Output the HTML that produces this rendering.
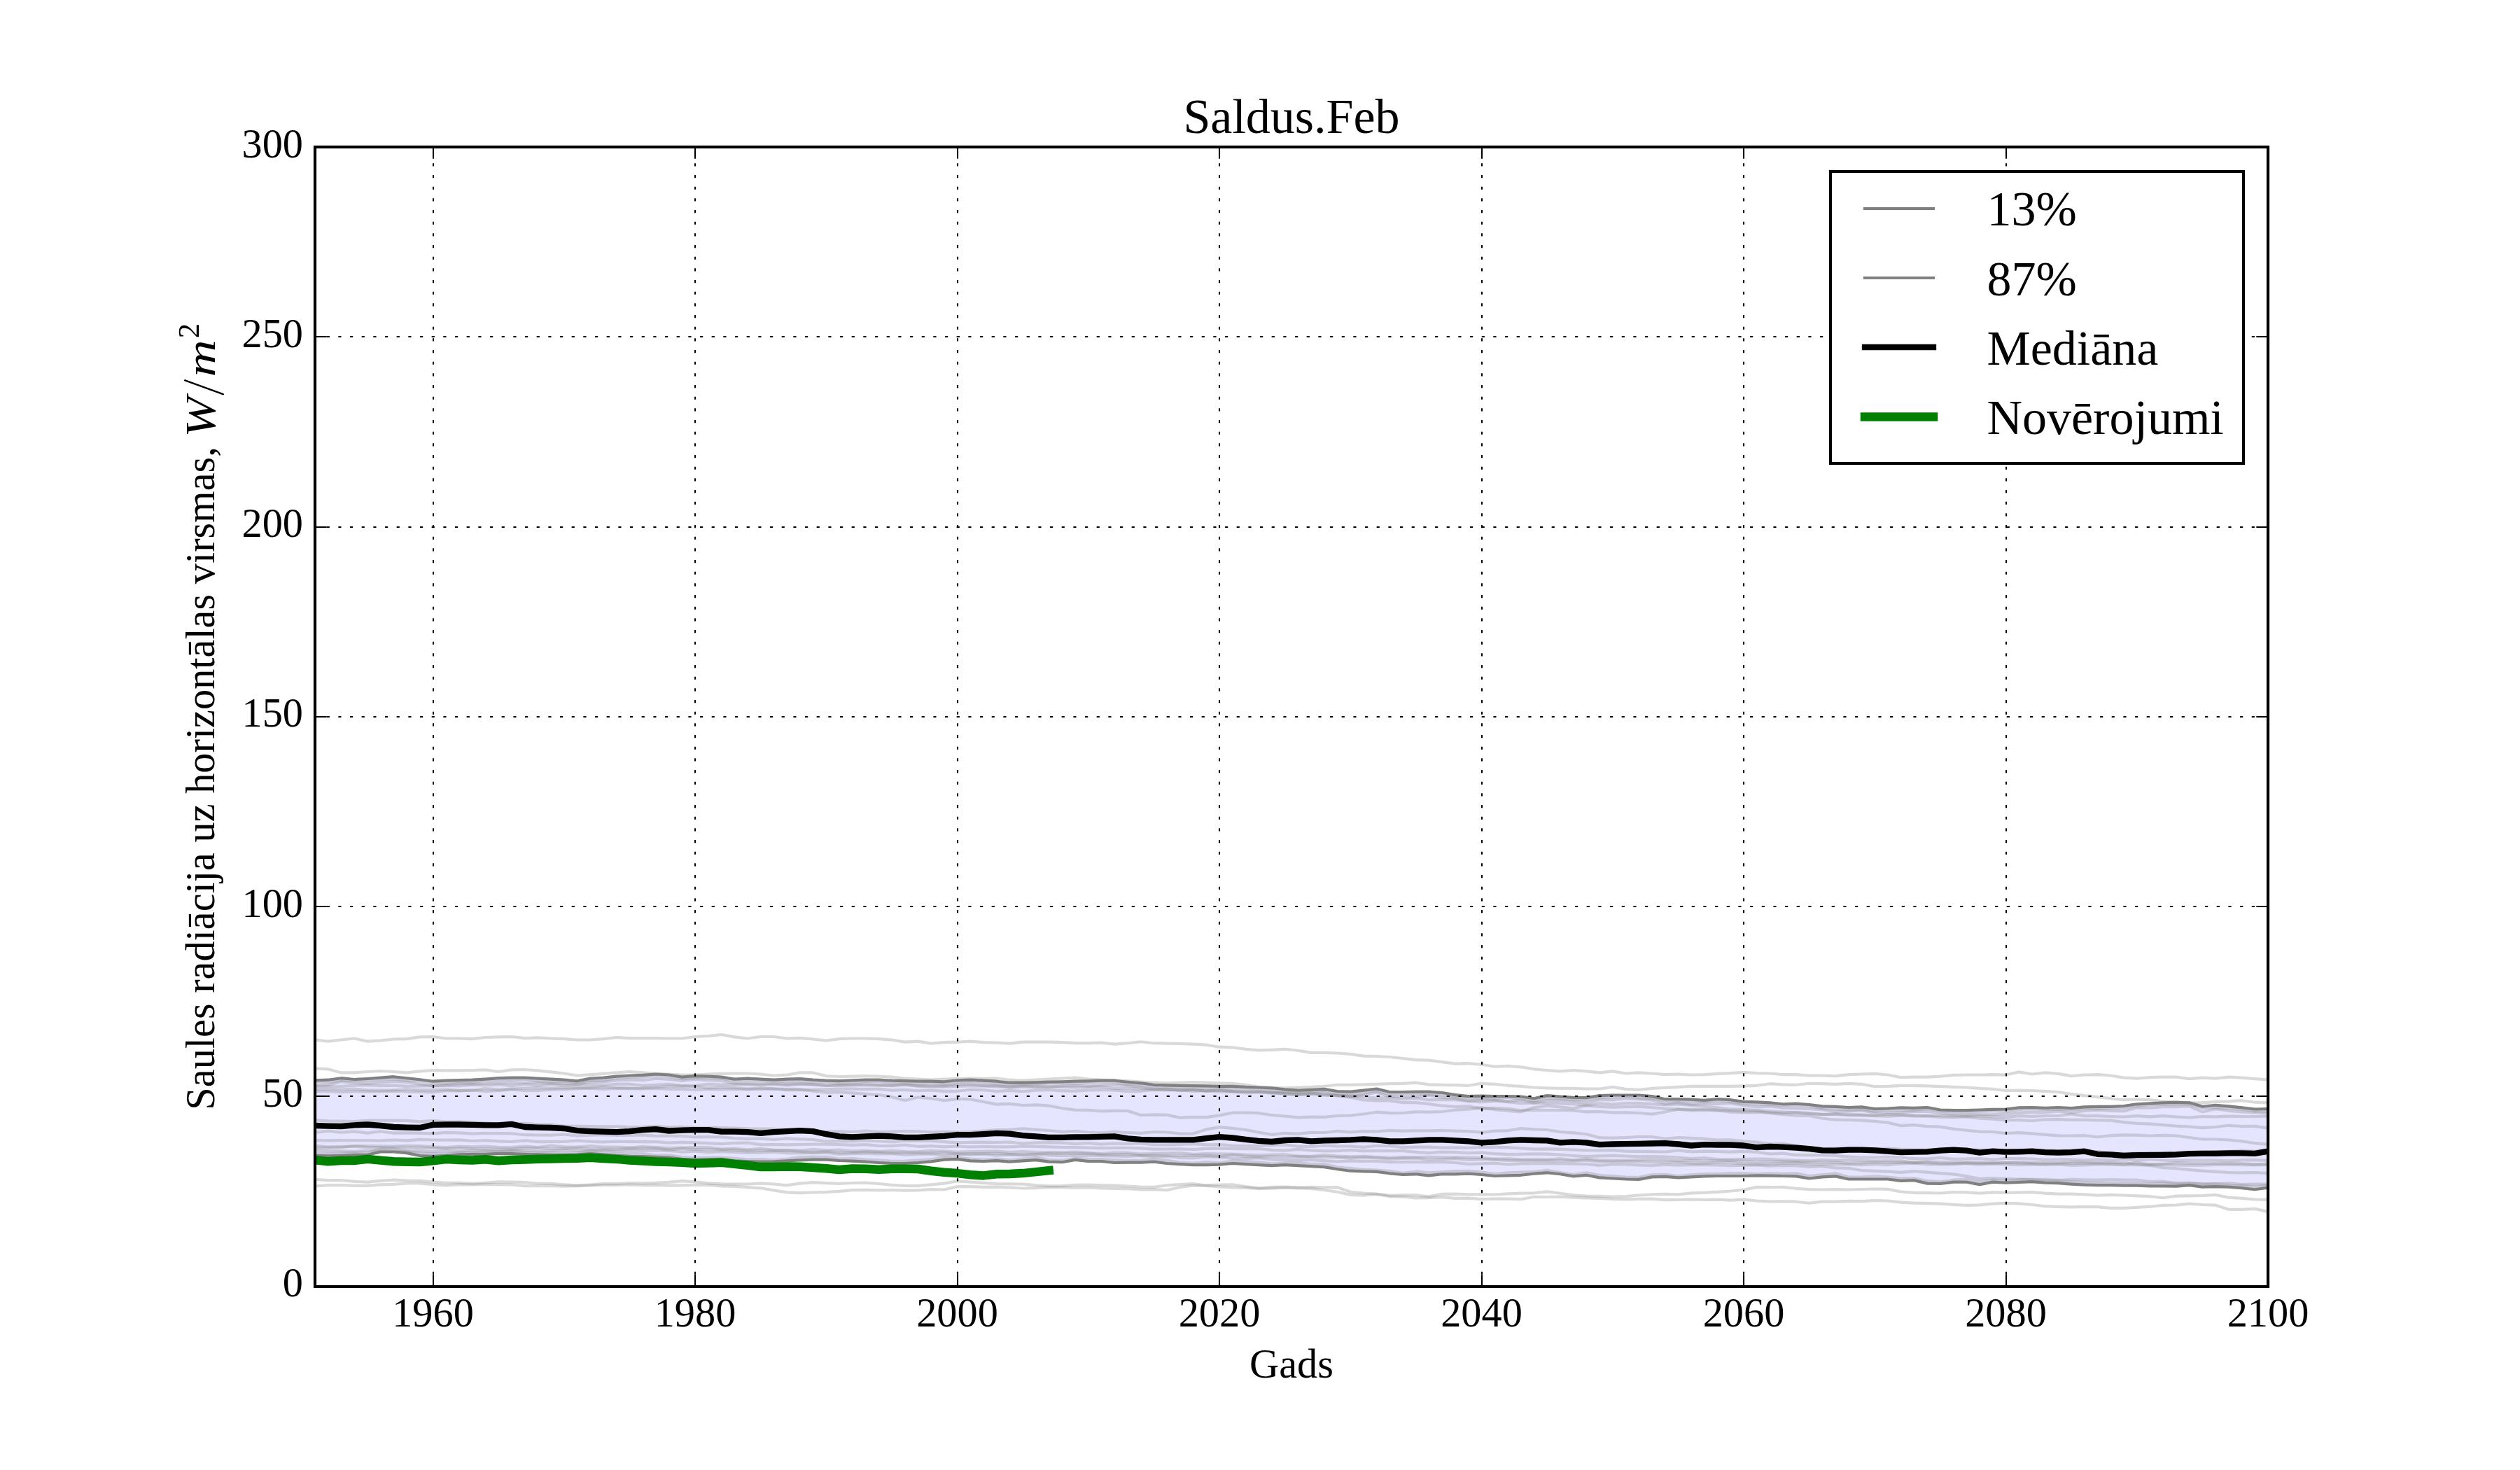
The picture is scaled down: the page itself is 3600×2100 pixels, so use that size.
<!DOCTYPE html><html><head><meta charset="utf-8"><title>Saldus.Feb</title><style>html,body{margin:0;padding:0;background:#fff;overflow:hidden;width:3600px;height:2100px;}svg{display:block;}text{font-family:"Liberation Serif",serif;}</style></head><body>
<svg width="3600" height="2100" viewBox="0 0 3600 2100">
<rect x="0" y="0" width="3600" height="2100" fill="#fff"/>
<defs><clipPath id="ax"><rect x="450.0" y="210.0" width="2790.0" height="1627.5"/></clipPath></defs>
<g clip-path="url(#ax)" fill="none" stroke-linejoin="round" stroke-linecap="square">
<path d="M450.0,1543.3 L468.7,1542.7 L487.4,1540.2 L506.2,1542.0 L524.9,1541.0 L543.6,1539.6 L562.3,1538.2 L581.1,1540.2 L599.8,1542.2 L618.5,1544.7 L637.2,1543.7 L656.0,1543.1 L674.7,1542.7 L693.4,1541.6 L712.1,1540.2 L730.9,1539.6 L749.6,1539.6 L768.3,1540.6 L787.0,1541.6 L805.8,1542.7 L824.5,1544.3 L843.2,1540.6 L861.9,1539.6 L880.7,1537.6 L899.4,1536.5 L918.1,1535.9 L936.8,1534.5 L955.6,1535.5 L974.3,1538.6 L993.0,1537.1 L1011.7,1537.6 L1030.5,1538.6 L1049.2,1541.6 L1067.9,1540.6 L1086.6,1541.6 L1105.4,1542.7 L1124.1,1541.6 L1142.8,1541.2 L1161.5,1542.7 L1180.3,1543.7 L1199.0,1544.1 L1217.7,1543.3 L1236.4,1542.7 L1255.2,1542.7 L1273.9,1543.7 L1292.6,1544.1 L1311.3,1544.7 L1330.1,1544.7 L1348.8,1545.3 L1367.5,1543.3 L1386.2,1542.7 L1405.0,1543.7 L1423.7,1544.7 L1442.4,1546.7 L1461.1,1546.7 L1479.9,1546.3 L1498.6,1545.7 L1517.3,1545.3 L1536.0,1544.7 L1554.8,1544.3 L1573.5,1543.7 L1592.2,1543.7 L1610.9,1545.7 L1629.7,1547.3 L1648.4,1549.8 L1667.1,1550.4 L1685.8,1550.8 L1704.6,1551.2 L1723.3,1551.4 L1742.0,1551.8 L1760.7,1551.8 L1779.5,1552.9 L1798.2,1553.5 L1816.9,1554.3 L1835.6,1556.3 L1854.4,1557.6 L1873.1,1556.9 L1891.8,1555.9 L1910.5,1559.0 L1929.3,1559.6 L1948.0,1557.6 L1966.7,1555.5 L1985.4,1560.0 L2004.2,1560.0 L2022.9,1559.6 L2041.6,1559.6 L2060.3,1561.0 L2079.1,1564.1 L2097.8,1566.1 L2116.5,1565.7 L2135.2,1566.1 L2154.0,1566.1 L2172.7,1566.5 L2191.4,1569.2 L2210.1,1565.1 L2228.9,1566.5 L2247.6,1567.8 L2266.3,1568.2 L2285.0,1565.1 L2303.8,1564.5 L2322.5,1564.5 L2341.2,1564.5 L2359.9,1566.1 L2378.7,1570.2 L2397.4,1570.2 L2416.1,1570.6 L2434.8,1571.8 L2453.6,1570.2 L2472.3,1571.2 L2491.0,1573.9 L2509.7,1574.3 L2528.5,1575.3 L2547.2,1577.3 L2565.9,1576.7 L2584.6,1578.0 L2603.4,1580.4 L2622.1,1580.8 L2640.8,1582.0 L2659.5,1581.4 L2678.3,1584.1 L2697.0,1583.5 L2715.7,1582.4 L2734.4,1582.9 L2753.2,1582.0 L2771.9,1585.5 L2790.6,1586.1 L2809.3,1586.1 L2828.1,1585.5 L2846.8,1584.9 L2865.5,1584.5 L2884.2,1582.4 L2903.0,1582.0 L2921.7,1582.9 L2940.4,1582.0 L2959.1,1583.1 L2977.9,1581.4 L2996.6,1580.8 L3015.3,1580.8 L3034.0,1580.0 L3052.8,1577.3 L3071.5,1576.3 L3090.2,1575.3 L3108.9,1574.9 L3127.7,1575.3 L3146.4,1580.8 L3165.1,1578.8 L3183.8,1580.4 L3202.6,1582.4 L3221.3,1584.5 L3240.0,1584.1 L3240.0,1696.7 L3221.3,1699.2 L3202.6,1697.1 L3183.8,1695.7 L3165.1,1695.1 L3146.4,1695.7 L3127.7,1693.1 L3108.9,1694.7 L3090.2,1694.3 L3071.5,1694.3 L3052.8,1693.7 L3034.0,1693.7 L3015.3,1693.1 L2996.6,1693.1 L2977.9,1692.7 L2959.1,1691.6 L2940.4,1690.2 L2921.7,1689.6 L2903.0,1688.2 L2884.2,1689.0 L2865.5,1689.6 L2846.8,1688.6 L2828.1,1692.2 L2809.3,1688.6 L2790.6,1688.6 L2771.9,1691.0 L2753.2,1690.6 L2734.4,1686.1 L2715.7,1686.9 L2697.0,1684.5 L2678.3,1684.5 L2659.5,1684.5 L2640.8,1684.5 L2622.1,1680.4 L2603.4,1681.4 L2584.6,1683.5 L2565.9,1680.4 L2547.2,1680.0 L2528.5,1679.6 L2509.7,1679.4 L2491.0,1680.0 L2472.3,1680.0 L2453.6,1680.0 L2434.8,1680.4 L2416.1,1681.4 L2397.4,1682.4 L2378.7,1680.8 L2359.9,1681.4 L2341.2,1684.9 L2322.5,1684.5 L2303.8,1683.5 L2285.0,1682.4 L2266.3,1678.8 L2247.6,1680.4 L2228.9,1677.3 L2210.1,1675.3 L2191.4,1676.7 L2172.7,1678.8 L2154.0,1679.4 L2135.2,1680.0 L2116.5,1678.0 L2097.8,1676.7 L2079.1,1677.3 L2060.3,1677.3 L2041.6,1679.4 L2022.9,1677.3 L2004.2,1678.0 L1985.4,1676.3 L1966.7,1673.9 L1948.0,1673.3 L1929.3,1672.7 L1910.5,1670.2 L1891.8,1667.1 L1873.1,1666.1 L1854.4,1665.1 L1835.6,1664.1 L1816.9,1665.1 L1798.2,1664.1 L1779.5,1663.1 L1760.7,1662.0 L1742.0,1663.7 L1723.3,1664.1 L1704.6,1664.1 L1685.8,1663.1 L1667.1,1662.0 L1648.4,1659.6 L1629.7,1660.6 L1610.9,1660.6 L1592.2,1661.0 L1573.5,1659.0 L1554.8,1659.0 L1536.0,1656.9 L1517.3,1660.2 L1498.6,1659.6 L1479.9,1657.1 L1461.1,1658.4 L1442.4,1659.6 L1423.7,1658.2 L1405.0,1659.0 L1386.2,1658.4 L1367.5,1655.9 L1348.8,1656.7 L1330.1,1659.4 L1311.3,1661.0 L1292.6,1662.0 L1273.9,1662.0 L1255.2,1661.0 L1236.4,1659.6 L1217.7,1658.6 L1199.0,1658.0 L1180.3,1656.7 L1161.5,1656.7 L1142.8,1657.3 L1124.1,1658.4 L1105.4,1659.4 L1086.6,1659.6 L1067.9,1659.0 L1049.2,1658.4 L1030.5,1655.9 L1011.7,1656.3 L993.0,1656.9 L974.3,1655.9 L955.6,1653.5 L936.8,1652.9 L918.1,1652.2 L899.4,1651.8 L880.7,1650.8 L861.9,1649.4 L843.2,1648.2 L824.5,1649.4 L805.8,1649.8 L787.0,1649.8 L768.3,1649.4 L749.6,1648.8 L730.9,1648.2 L712.1,1647.8 L693.4,1648.8 L674.7,1648.8 L656.0,1649.4 L637.2,1650.8 L618.5,1651.8 L599.8,1651.0 L581.1,1647.1 L562.3,1645.5 L543.6,1645.5 L524.9,1649.8 L506.2,1649.8 L487.4,1650.8 L468.7,1651.4 L450.0,1650.8 Z" fill="#0000ff" fill-opacity="0.100" stroke="none"/>
<path d="M450.0,1485.5 L468.7,1487.6 L487.4,1485.5 L506.2,1483.5 L524.9,1487.6 L543.6,1486.5 L562.3,1484.5 L581.1,1484.1 L599.8,1481.4 L618.5,1481.0 L637.2,1483.5 L656.0,1483.5 L674.7,1484.1 L693.4,1482.0 L712.1,1481.4 L730.9,1481.0 L749.6,1483.1 L768.3,1482.4 L787.0,1483.5 L805.8,1484.1 L824.5,1485.5 L843.2,1485.5 L861.9,1484.1 L880.7,1482.0 L899.4,1483.1 L918.1,1483.1 L936.8,1483.1 L955.6,1483.5 L974.3,1483.5 L993.0,1481.0 L1011.7,1480.0 L1030.5,1478.0 L1049.2,1481.4 L1067.9,1483.5 L1086.6,1481.0 L1105.4,1481.0 L1124.1,1483.5 L1142.8,1482.9 L1161.5,1484.5 L1180.3,1486.5 L1199.0,1484.1 L1217.7,1483.5 L1236.4,1483.5 L1255.2,1484.1 L1273.9,1485.5 L1292.6,1488.6 L1311.3,1487.6 L1330.1,1490.6 L1348.8,1489.2 L1367.5,1488.6 L1386.2,1487.6 L1405.0,1489.2 L1423.7,1489.6 L1442.4,1490.6 L1461.1,1488.6 L1479.9,1488.6 L1498.6,1488.6 L1517.3,1489.0 L1536.0,1490.2 L1554.8,1490.2 L1573.5,1489.6 L1592.2,1491.6 L1610.9,1490.2 L1629.7,1488.2 L1648.4,1490.2 L1667.1,1490.6 L1685.8,1491.0 L1704.6,1491.6 L1723.3,1492.7 L1742.0,1495.7 L1760.7,1496.3 L1779.5,1498.8 L1798.2,1500.4 L1816.9,1499.8 L1835.6,1498.8 L1854.4,1500.8 L1873.1,1503.9 L1891.8,1503.9 L1910.5,1504.5 L1929.3,1505.9 L1948.0,1508.6 L1966.7,1509.0 L1985.4,1510.0 L2004.2,1512.0 L2022.9,1514.1 L2041.6,1514.7 L2060.3,1517.1 L2079.1,1519.6 L2097.8,1519.2 L2116.5,1520.8 L2135.2,1523.7 L2154.0,1522.9 L2172.7,1524.3 L2191.4,1527.3 L2210.1,1529.0 L2228.9,1530.4 L2247.6,1529.0 L2266.3,1530.4 L2285.0,1532.4 L2303.8,1530.4 L2322.5,1533.5 L2341.2,1532.4 L2359.9,1533.5 L2378.7,1535.1 L2397.4,1534.5 L2416.1,1535.5 L2434.8,1535.1 L2453.6,1533.9 L2472.3,1533.1 L2491.0,1531.8 L2509.7,1533.1 L2528.5,1533.5 L2547.2,1535.1 L2565.9,1535.1 L2584.6,1536.5 L2603.4,1536.5 L2622.1,1537.1 L2640.8,1535.1 L2659.5,1534.5 L2678.3,1533.9 L2697.0,1535.5 L2715.7,1539.2 L2734.4,1538.6 L2753.2,1538.6 L2771.9,1537.6 L2790.6,1535.9 L2809.3,1535.5 L2828.1,1535.5 L2846.8,1535.1 L2865.5,1535.5 L2884.2,1531.4 L2903.0,1534.5 L2921.7,1532.4 L2940.4,1533.9 L2959.1,1537.1 L2977.9,1535.5 L2996.6,1535.1 L3015.3,1536.5 L3034.0,1539.6 L3052.8,1540.6 L3071.5,1539.2 L3090.2,1538.6 L3108.9,1538.6 L3127.7,1541.2 L3146.4,1539.6 L3165.1,1540.6 L3183.8,1538.6 L3202.6,1539.6 L3221.3,1541.2 L3240.0,1542.7" stroke="rgba(128,128,128,0.3)" stroke-width="4.17"/>
<path d="M450.0,1526.3 L468.7,1527.3 L487.4,1532.4 L506.2,1532.4 L524.9,1531.0 L543.6,1530.0 L562.3,1531.0 L581.1,1532.4 L599.8,1530.4 L618.5,1529.0 L637.2,1529.4 L656.0,1529.4 L674.7,1529.0 L693.4,1528.4 L712.1,1531.0 L730.9,1528.4 L749.6,1528.0 L768.3,1529.4 L787.0,1531.4 L805.8,1533.5 L824.5,1536.5 L843.2,1535.1 L861.9,1533.9 L880.7,1532.4 L899.4,1531.0 L918.1,1532.4 L936.8,1533.5 L955.6,1534.5 L974.3,1535.5 L993.0,1535.5 L1011.7,1534.5 L1030.5,1533.9 L1049.2,1533.5 L1067.9,1533.5 L1086.6,1534.5 L1105.4,1536.5 L1124.1,1535.5 L1142.8,1532.4 L1161.5,1532.4 L1180.3,1537.1 L1199.0,1538.0 L1217.7,1537.6 L1236.4,1537.1 L1255.2,1537.6 L1273.9,1538.6 L1292.6,1540.6 L1311.3,1541.6 L1330.1,1542.7 L1348.8,1541.6 L1367.5,1541.2 L1386.2,1540.6 L1405.0,1541.2 L1423.7,1540.6 L1442.4,1542.7 L1461.1,1543.7 L1479.9,1542.7 L1498.6,1541.6 L1517.3,1540.6 L1536.0,1539.6 L1554.8,1541.6 L1573.5,1542.7 L1592.2,1543.3 L1610.9,1544.1 L1629.7,1545.7 L1648.4,1546.7 L1667.1,1547.3 L1685.8,1546.7 L1704.6,1546.1 L1723.3,1546.7 L1742.0,1547.3 L1760.7,1547.8 L1779.5,1549.8 L1798.2,1552.9 L1816.9,1553.9 L1835.6,1554.3 L1854.4,1553.5 L1873.1,1552.9 L1891.8,1551.8 L1910.5,1549.8 L1929.3,1549.8 L1948.0,1549.4 L1966.7,1548.8 L1985.4,1548.2 L2004.2,1547.8 L2022.9,1546.7 L2041.6,1549.4 L2060.3,1549.8 L2079.1,1550.2 L2097.8,1550.8 L2116.5,1547.8 L2135.2,1548.8 L2154.0,1550.8 L2172.7,1551.8 L2191.4,1553.5 L2210.1,1554.3 L2228.9,1554.9 L2247.6,1554.9 L2266.3,1555.5 L2285.0,1555.5 L2303.8,1552.9 L2322.5,1555.9 L2341.2,1556.9 L2359.9,1554.9 L2378.7,1553.9 L2397.4,1552.9 L2416.1,1551.8 L2434.8,1551.8 L2453.6,1551.8 L2472.3,1551.8 L2491.0,1551.4 L2509.7,1550.8 L2528.5,1548.2 L2547.2,1549.4 L2565.9,1549.8 L2584.6,1547.8 L2603.4,1548.2 L2622.1,1548.8 L2640.8,1547.8 L2659.5,1548.8 L2678.3,1552.2 L2697.0,1551.8 L2715.7,1550.8 L2734.4,1550.8 L2753.2,1551.4 L2771.9,1552.2 L2790.6,1552.9 L2809.3,1553.5 L2828.1,1554.9 L2846.8,1555.9 L2865.5,1558.0 L2884.2,1557.6 L2903.0,1558.0 L2921.7,1559.0 L2940.4,1560.0 L2959.1,1563.1 L2977.9,1565.1 L2996.6,1567.1 L3015.3,1569.2 L3034.0,1571.2 L3052.8,1570.6 L3071.5,1571.2 L3090.2,1573.3 L3108.9,1574.3 L3127.7,1575.3 L3146.4,1575.3 L3165.1,1573.9 L3183.8,1573.3 L3202.6,1572.2 L3221.3,1574.7 L3240.0,1575.3" stroke="rgba(128,128,128,0.3)" stroke-width="4.17"/>
<path d="M450.0,1684.9 L468.7,1686.2 L487.4,1686.0 L506.2,1687.9 L524.9,1688.7 L543.6,1686.9 L562.3,1685.7 L581.1,1686.6 L599.8,1686.8 L618.5,1688.6 L637.2,1689.8 L656.0,1689.9 L674.7,1690.8 L693.4,1689.8 L712.1,1688.4 L730.9,1688.6 L749.6,1689.0 L768.3,1690.6 L787.0,1690.9 L805.8,1692.3 L824.5,1693.6 L843.2,1692.7 L861.9,1691.2 L880.7,1691.2 L899.4,1690.0 L918.1,1690.3 L936.8,1689.8 L955.6,1688.8 L974.3,1687.1 L993.0,1688.4 L1011.7,1690.3 L1030.5,1691.4 L1049.2,1691.6 L1067.9,1691.5 L1086.6,1690.5 L1105.4,1691.5 L1124.1,1693.3 L1142.8,1690.6 L1161.5,1689.1 L1180.3,1690.2 L1199.0,1690.8 L1217.7,1690.0 L1236.4,1689.7 L1255.2,1691.0 L1273.9,1692.9 L1292.6,1693.8 L1311.3,1694.2 L1330.1,1692.4 L1348.8,1690.6 L1367.5,1687.3 L1386.2,1688.5 L1405.0,1689.8 L1423.7,1691.2 L1442.4,1691.4 L1461.1,1691.5 L1479.9,1693.4 L1498.6,1694.4 L1517.3,1694.1 L1536.0,1692.9 L1554.8,1692.7 L1573.5,1693.4 L1592.2,1693.7 L1610.9,1694.5 L1629.7,1695.6 L1648.4,1695.8 L1667.1,1693.3 L1685.8,1692.0 L1704.6,1691.2 L1723.3,1693.3 L1742.0,1692.5 L1760.7,1692.3 L1779.5,1695.0 L1798.2,1697.5 L1816.9,1695.8 L1835.6,1695.6 L1854.4,1696.3 L1873.1,1695.9 L1891.8,1696.4 L1910.5,1696.2 L1929.3,1702.8 L1948.0,1704.5 L1966.7,1705.7 L1985.4,1707.8 L2004.2,1707.4 L2022.9,1707.3 L2041.6,1709.4 L2060.3,1705.8 L2079.1,1705.6 L2097.8,1706.3 L2116.5,1706.3 L2135.2,1706.5 L2154.0,1705.4 L2172.7,1704.6 L2191.4,1704.3 L2210.1,1702.4 L2228.9,1704.8 L2247.6,1707.4 L2266.3,1708.5 L2285.0,1708.9 L2303.8,1709.5 L2322.5,1709.2 L2341.2,1707.5 L2359.9,1706.3 L2378.7,1705.9 L2397.4,1706.4 L2416.1,1704.4 L2434.8,1703.8 L2453.6,1702.8 L2472.3,1701.5 L2491.0,1699.7 L2509.7,1695.9 L2528.5,1696.2 L2547.2,1695.9 L2565.9,1697.8 L2584.6,1699.1 L2603.4,1699.5 L2622.1,1699.1 L2640.8,1699.5 L2659.5,1699.0 L2678.3,1698.5 L2697.0,1698.9 L2715.7,1702.5 L2734.4,1703.8 L2753.2,1704.2 L2771.9,1704.5 L2790.6,1703.2 L2809.3,1703.4 L2828.1,1704.6 L2846.8,1703.3 L2865.5,1703.8 L2884.2,1703.7 L2903.0,1703.2 L2921.7,1704.7 L2940.4,1705.6 L2959.1,1705.7 L2977.9,1706.3 L2996.6,1707.6 L3015.3,1706.9 L3034.0,1707.5 L3052.8,1708.4 L3071.5,1709.2 L3090.2,1711.2 L3108.9,1708.6 L3127.7,1708.3 L3146.4,1708.0 L3165.1,1706.9 L3183.8,1710.7 L3202.6,1711.9 L3221.3,1713.5 L3240.0,1713.9" stroke="rgba(128,128,128,0.3)" stroke-width="4.17"/>
<path d="M450.0,1694.5 L468.7,1693.1 L487.4,1693.0 L506.2,1693.9 L524.9,1693.8 L543.6,1692.3 L562.3,1691.8 L581.1,1690.5 L599.8,1690.4 L618.5,1692.3 L637.2,1693.3 L656.0,1692.2 L674.7,1692.4 L693.4,1691.9 L712.1,1692.2 L730.9,1692.4 L749.6,1694.2 L768.3,1694.1 L787.0,1694.1 L805.8,1694.7 L824.5,1694.2 L843.2,1693.5 L861.9,1693.0 L880.7,1693.0 L899.4,1692.5 L918.1,1693.1 L936.8,1692.8 L955.6,1693.7 L974.3,1693.3 L993.0,1692.9 L1011.7,1692.8 L1030.5,1694.4 L1049.2,1694.9 L1067.9,1696.2 L1086.6,1697.3 L1105.4,1700.5 L1124.1,1703.4 L1142.8,1704.2 L1161.5,1703.5 L1180.3,1703.0 L1199.0,1701.9 L1217.7,1700.1 L1236.4,1699.8 L1255.2,1700.4 L1273.9,1700.2 L1292.6,1700.7 L1311.3,1700.4 L1330.1,1699.1 L1348.8,1699.5 L1367.5,1695.1 L1386.2,1695.2 L1405.0,1695.8 L1423.7,1695.7 L1442.4,1696.5 L1461.1,1697.5 L1479.9,1697.2 L1498.6,1696.2 L1517.3,1696.2 L1536.0,1696.6 L1554.8,1696.4 L1573.5,1697.3 L1592.2,1697.9 L1610.9,1698.1 L1629.7,1699.3 L1648.4,1699.2 L1667.1,1700.2 L1685.8,1696.0 L1704.6,1693.6 L1723.3,1694.0 L1742.0,1695.4 L1760.7,1696.3 L1779.5,1696.8 L1798.2,1697.9 L1816.9,1697.6 L1835.6,1696.7 L1854.4,1697.3 L1873.1,1697.9 L1891.8,1700.0 L1910.5,1702.7 L1929.3,1706.9 L1948.0,1707.7 L1966.7,1706.0 L1985.4,1709.3 L2004.2,1709.7 L2022.9,1711.3 L2041.6,1711.1 L2060.3,1710.1 L2079.1,1711.8 L2097.8,1711.7 L2116.5,1713.2 L2135.2,1712.5 L2154.0,1712.6 L2172.7,1713.2 L2191.4,1709.8 L2210.1,1710.0 L2228.9,1709.6 L2247.6,1710.7 L2266.3,1711.3 L2285.0,1711.8 L2303.8,1712.8 L2322.5,1713.5 L2341.2,1712.8 L2359.9,1712.7 L2378.7,1714.1 L2397.4,1714.0 L2416.1,1713.5 L2434.8,1714.0 L2453.6,1713.7 L2472.3,1714.7 L2491.0,1713.7 L2509.7,1715.5 L2528.5,1716.5 L2547.2,1716.3 L2565.9,1716.7 L2584.6,1718.8 L2603.4,1716.6 L2622.1,1716.6 L2640.8,1715.8 L2659.5,1716.1 L2678.3,1715.0 L2697.0,1715.5 L2715.7,1717.6 L2734.4,1718.6 L2753.2,1719.1 L2771.9,1719.6 L2790.6,1720.8 L2809.3,1721.9 L2828.1,1721.4 L2846.8,1719.6 L2865.5,1718.8 L2884.2,1719.3 L2903.0,1721.0 L2921.7,1723.2 L2940.4,1723.8 L2959.1,1724.3 L2977.9,1723.9 L2996.6,1724.1 L3015.3,1725.9 L3034.0,1725.8 L3052.8,1724.9 L3071.5,1723.7 L3090.2,1721.8 L3108.9,1721.5 L3127.7,1719.6 L3146.4,1721.0 L3165.1,1721.7 L3183.8,1727.8 L3202.6,1727.8 L3221.3,1726.9 L3240.0,1731.0" stroke="rgba(128,128,128,0.3)" stroke-width="4.17"/>
<path d="M450.0,1545.2 L468.7,1546.4 L487.4,1543.7 L506.2,1544.3 L524.9,1543.9 L543.6,1542.3 L562.3,1541.4 L581.1,1543.8 L599.8,1544.1 L618.5,1546.4 L637.2,1547.4 L656.0,1545.8 L674.7,1546.2 L693.4,1543.3 L712.1,1542.9 L730.9,1543.0 L749.6,1541.8 L768.3,1544.6 L787.0,1545.5 L805.8,1544.4 L824.5,1546.0 L843.2,1543.6 L861.9,1543.5 L880.7,1540.1 L899.4,1538.7 L918.1,1538.6 L936.8,1536.2 L955.6,1537.7 L974.3,1541.3 L993.0,1540.0 L1011.7,1539.8 L1030.5,1540.8 L1049.2,1543.8 L1067.9,1543.4 L1086.6,1544.0 L1105.4,1544.3 L1124.1,1545.3 L1142.8,1544.2 L1161.5,1545.9 L1180.3,1545.8 L1199.0,1548.1 L1217.7,1547.0 L1236.4,1544.6 L1255.2,1545.1 L1273.9,1547.1 L1292.6,1547.5 L1311.3,1548.6 L1330.1,1547.4 L1348.8,1549.0 L1367.5,1546.5 L1386.2,1545.0 L1405.0,1546.7 L1423.7,1548.5 L1442.4,1550.4 L1461.1,1549.6 L1479.9,1549.4 L1498.6,1547.4 L1517.3,1547.5 L1536.0,1548.3 L1554.8,1546.9 L1573.5,1545.7 L1592.2,1546.7 L1610.9,1549.1 L1629.7,1550.6 L1648.4,1552.3 L1667.1,1553.1 L1685.8,1553.7 L1704.6,1554.8 L1723.3,1554.3 L1742.0,1554.4 L1760.7,1554.7 L1779.5,1554.6 L1798.2,1555.2 L1816.9,1557.6 L1835.6,1560.4 L1854.4,1560.6 L1873.1,1559.5 L1891.8,1558.0 L1910.5,1561.8 L1929.3,1563.6 L1948.0,1561.1 L1966.7,1558.5 L1985.4,1563.7 L2004.2,1562.2 L2022.9,1562.5 L2041.6,1563.6 L2060.3,1564.1 L2079.1,1566.8 L2097.8,1568.4 L2116.5,1568.7 L2135.2,1570.1 L2154.0,1567.8 L2172.7,1570.1 L2191.4,1572.8 L2210.1,1568.9 L2228.9,1570.0 L2247.6,1571.4 L2266.3,1571.1 L2285.0,1568.1 L2303.8,1567.2 L2322.5,1566.3 L2341.2,1568.3 L2359.9,1569.2 L2378.7,1572.3 L2397.4,1573.1 L2416.1,1573.4 L2434.8,1574.3 L2453.6,1572.7 L2472.3,1574.2 L2491.0,1577.0 L2509.7,1577.4 L2528.5,1578.1 L2547.2,1579.0 L2565.9,1578.9 L2584.6,1580.0 L2603.4,1583.5 L2622.1,1584.6 L2640.8,1585.6 L2659.5,1585.0 L2678.3,1587.7 L2697.0,1585.7 L2715.7,1586.1 L2734.4,1586.1 L2753.2,1583.9 L2771.9,1587.2 L2790.6,1587.8 L2809.3,1589.6 L2828.1,1587.8 L2846.8,1586.8 L2865.5,1587.7 L2884.2,1584.9 L2903.0,1583.8 L2921.7,1584.9 L2940.4,1585.0 L2959.1,1585.1 L2977.9,1583.7 L2996.6,1584.2 L3015.3,1583.6 L3034.0,1582.4 L3052.8,1580.1 L3071.5,1578.0 L3090.2,1577.9 L3108.9,1577.6 L3127.7,1577.4 L3146.4,1582.7 L3165.1,1582.6 L3183.8,1583.3 L3202.6,1584.6 L3221.3,1587.6 L3240.0,1587.7" stroke="rgba(128,128,128,0.3)" stroke-width="4.17"/>
<path d="M450.0,1550.7 L468.7,1550.1 L487.4,1545.1 L506.2,1547.0 L524.9,1548.1 L543.6,1546.4 L562.3,1544.8 L581.1,1545.8 L599.8,1548.7 L618.5,1551.1 L637.2,1550.0 L656.0,1548.2 L674.7,1548.6 L693.4,1547.5 L712.1,1547.0 L730.9,1547.1 L749.6,1547.0 L768.3,1546.9 L787.0,1547.6 L805.8,1548.1 L824.5,1549.1 L843.2,1545.4 L861.9,1545.6 L880.7,1543.2 L899.4,1542.3 L918.1,1543.2 L936.8,1540.7 L955.6,1541.8 L974.3,1543.9 L993.0,1541.9 L1011.7,1543.2 L1030.5,1543.7 L1049.2,1547.8 L1067.9,1548.2 L1086.6,1548.3 L1105.4,1547.9 L1124.1,1548.9 L1142.8,1548.2 L1161.5,1549.4 L1180.3,1551.0 L1199.0,1551.0 L1217.7,1550.2 L1236.4,1548.4 L1255.2,1550.1 L1273.9,1551.1 L1292.6,1549.2 L1311.3,1551.5 L1330.1,1551.4 L1348.8,1551.3 L1367.5,1549.5 L1386.2,1548.7 L1405.0,1551.0 L1423.7,1550.8 L1442.4,1553.8 L1461.1,1552.4 L1479.9,1553.5 L1498.6,1553.0 L1517.3,1551.3 L1536.0,1551.0 L1554.8,1551.6 L1573.5,1550.4 L1592.2,1549.8 L1610.9,1551.0 L1629.7,1553.0 L1648.4,1556.5 L1667.1,1555.6 L1685.8,1558.1 L1704.6,1556.7 L1723.3,1558.7 L1742.0,1557.4 L1760.7,1559.3 L1779.5,1559.6 L1798.2,1559.6 L1816.9,1560.5 L1835.6,1562.9 L1854.4,1563.9 L1873.1,1562.5 L1891.8,1561.2 L1910.5,1565.1 L1929.3,1567.0 L1948.0,1564.0 L1966.7,1560.4 L1985.4,1567.0 L2004.2,1566.8 L2022.9,1566.9 L2041.6,1564.8 L2060.3,1567.8 L2079.1,1568.9 L2097.8,1572.7 L2116.5,1571.2 L2135.2,1571.5 L2154.0,1573.3 L2172.7,1571.5 L2191.4,1575.4 L2210.1,1572.2 L2228.9,1571.9 L2247.6,1573.1 L2266.3,1575.4 L2285.0,1571.0 L2303.8,1571.2 L2322.5,1569.3 L2341.2,1570.2 L2359.9,1571.3 L2378.7,1576.8 L2397.4,1575.1 L2416.1,1578.0 L2434.8,1576.6 L2453.6,1577.0 L2472.3,1576.0 L2491.0,1579.3 L2509.7,1581.3 L2528.5,1580.4 L2547.2,1582.6 L2565.9,1583.4 L2584.6,1583.8 L2603.4,1585.2 L2622.1,1588.3 L2640.8,1587.2 L2659.5,1586.2 L2678.3,1589.8 L2697.0,1589.9 L2715.7,1589.3 L2734.4,1587.9 L2753.2,1587.7 L2771.9,1590.3 L2790.6,1592.1 L2809.3,1593.0 L2828.1,1592.3 L2846.8,1592.2 L2865.5,1591.3 L2884.2,1589.6 L2903.0,1588.7 L2921.7,1588.9 L2940.4,1587.4 L2959.1,1589.6 L2977.9,1587.0 L2996.6,1585.8 L3015.3,1586.8 L3034.0,1587.2 L3052.8,1582.4 L3071.5,1582.7 L3090.2,1581.1 L3108.9,1581.1 L3127.7,1580.4 L3146.4,1588.3 L3165.1,1584.2 L3183.8,1586.8 L3202.6,1588.3 L3221.3,1589.2 L3240.0,1590.4" stroke="rgba(128,128,128,0.3)" stroke-width="4.17"/>
<path d="M450.0,1556.1 L468.7,1555.9 L487.4,1556.5 L506.2,1555.7 L524.9,1557.4 L543.6,1557.6 L562.3,1557.4 L581.1,1556.4 L599.8,1557.4 L618.5,1557.1 L637.2,1556.6 L656.0,1557.9 L674.7,1557.7 L693.4,1555.0 L712.1,1556.6 L730.9,1555.6 L749.6,1554.7 L768.3,1554.1 L787.0,1554.7 L805.8,1553.8 L824.5,1554.2 L843.2,1554.1 L861.9,1552.7 L880.7,1554.1 L899.4,1554.5 L918.1,1554.4 L936.8,1553.4 L955.6,1551.9 L974.3,1551.7 L993.0,1552.0 L1011.7,1554.3 L1030.5,1553.2 L1049.2,1553.8 L1067.9,1555.5 L1086.6,1554.4 L1105.4,1555.5 L1124.1,1555.8 L1142.8,1556.2 L1161.5,1558.8 L1180.3,1560.8 L1199.0,1560.2 L1217.7,1561.4 L1236.4,1562.8 L1255.2,1564.0 L1273.9,1567.1 L1292.6,1572.0 L1311.3,1567.5 L1330.1,1569.3 L1348.8,1572.1 L1367.5,1569.9 L1386.2,1570.4 L1405.0,1574.0 L1423.7,1577.6 L1442.4,1576.9 L1461.1,1579.0 L1479.9,1578.4 L1498.6,1579.6 L1517.3,1583.2 L1536.0,1585.6 L1554.8,1585.9 L1573.5,1587.3 L1592.2,1586.9 L1610.9,1587.0 L1629.7,1592.9 L1648.4,1592.4 L1667.1,1592.7 L1685.8,1596.6 L1704.6,1595.9 L1723.3,1596.1 L1742.0,1593.4 L1760.7,1589.7 L1779.5,1589.7 L1798.2,1590.2 L1816.9,1593.0 L1835.6,1594.5 L1854.4,1596.4 L1873.1,1595.7 L1891.8,1595.9 L1910.5,1594.0 L1929.3,1593.5 L1948.0,1591.5 L1966.7,1588.7 L1985.4,1590.2 L2004.2,1590.0 L2022.9,1588.4 L2041.6,1588.6 L2060.3,1588.0 L2079.1,1585.6 L2097.8,1584.7 L2116.5,1582.4 L2135.2,1585.1 L2154.0,1586.8 L2172.7,1588.3 L2191.4,1582.3 L2210.1,1579.6 L2228.9,1581.5 L2247.6,1583.4 L2266.3,1579.1 L2285.0,1576.2 L2303.8,1577.5 L2322.5,1576.1 L2341.2,1576.2 L2359.9,1577.1 L2378.7,1578.5 L2397.4,1577.3 L2416.1,1578.9 L2434.8,1580.5 L2453.6,1582.3 L2472.3,1584.7 L2491.0,1584.8 L2509.7,1586.1 L2528.5,1587.4 L2547.2,1588.6 L2565.9,1589.5 L2584.6,1591.2 L2603.4,1592.0 L2622.1,1591.9 L2640.8,1591.6 L2659.5,1592.6 L2678.3,1593.7 L2697.0,1592.0 L2715.7,1592.4 L2734.4,1593.6 L2753.2,1593.9 L2771.9,1594.0 L2790.6,1594.1 L2809.3,1594.9 L2828.1,1594.2 L2846.8,1595.2 L2865.5,1595.8 L2884.2,1594.1 L2903.0,1594.8 L2921.7,1594.0 L2940.4,1594.0 L2959.1,1591.5 L2977.9,1594.1 L2996.6,1594.1 L3015.3,1595.0 L3034.0,1595.5 L3052.8,1594.2 L3071.5,1595.3 L3090.2,1594.2 L3108.9,1595.5 L3127.7,1596.5 L3146.4,1595.0 L3165.1,1595.3 L3183.8,1594.7 L3202.6,1595.0 L3221.3,1595.0 L3240.0,1594.7" stroke="rgba(128,128,128,0.3)" stroke-width="4.17"/>
<path d="M450.0,1558.9 L468.7,1559.2 L487.4,1560.2 L506.2,1559.1 L524.9,1559.3 L543.6,1559.5 L562.3,1558.6 L581.1,1559.5 L599.8,1559.8 L618.5,1560.3 L637.2,1558.2 L656.0,1558.4 L674.7,1557.5 L693.4,1558.9 L712.1,1558.2 L730.9,1556.3 L749.6,1558.2 L768.3,1557.8 L787.0,1556.7 L805.8,1556.2 L824.5,1555.1 L843.2,1554.7 L861.9,1556.0 L880.7,1554.8 L899.4,1555.2 L918.1,1555.3 L936.8,1554.8 L955.6,1555.8 L974.3,1555.8 L993.0,1556.8 L1011.7,1556.0 L1030.5,1556.3 L1049.2,1555.9 L1067.9,1556.3 L1086.6,1555.8 L1105.4,1555.4 L1124.1,1557.1 L1142.8,1557.1 L1161.5,1556.8 L1180.3,1556.4 L1199.0,1555.7 L1217.7,1555.7 L1236.4,1556.0 L1255.2,1555.7 L1273.9,1557.6 L1292.6,1556.9 L1311.3,1558.2 L1330.1,1557.3 L1348.8,1558.9 L1367.5,1558.8 L1386.2,1556.7 L1405.0,1557.2 L1423.7,1559.0 L1442.4,1557.9 L1461.1,1559.1 L1479.9,1557.7 L1498.6,1556.9 L1517.3,1558.3 L1536.0,1558.6 L1554.8,1557.4 L1573.5,1556.9 L1592.2,1557.5 L1610.9,1559.1 L1629.7,1558.6 L1648.4,1557.0 L1667.1,1557.3 L1685.8,1557.0 L1704.6,1556.9 L1723.3,1558.7 L1742.0,1557.2 L1760.7,1558.7 L1779.5,1559.0 L1798.2,1559.0 L1816.9,1560.9 L1835.6,1560.0 L1854.4,1561.8 L1873.1,1561.1 L1891.8,1563.9 L1910.5,1565.4 L1929.3,1567.6 L1948.0,1571.4 L1966.7,1572.3 L1985.4,1572.4 L2004.2,1575.2 L2022.9,1575.1 L2041.6,1577.1 L2060.3,1579.7 L2079.1,1580.8 L2097.8,1580.4 L2116.5,1583.6 L2135.2,1582.8 L2154.0,1583.9 L2172.7,1586.2 L2191.4,1585.6 L2210.1,1586.0 L2228.9,1586.0 L2247.6,1586.5 L2266.3,1588.3 L2285.0,1587.9 L2303.8,1589.3 L2322.5,1589.3 L2341.2,1590.0 L2359.9,1591.7 L2378.7,1588.5 L2397.4,1584.7 L2416.1,1586.4 L2434.8,1585.8 L2453.6,1586.2 L2472.3,1588.6 L2491.0,1589.3 L2509.7,1589.0 L2528.5,1589.9 L2547.2,1592.2 L2565.9,1593.7 L2584.6,1594.0 L2603.4,1597.8 L2622.1,1599.7 L2640.8,1600.0 L2659.5,1600.6 L2678.3,1601.9 L2697.0,1603.8 L2715.7,1608.1 L2734.4,1607.1 L2753.2,1609.1 L2771.9,1609.7 L2790.6,1612.8 L2809.3,1614.8 L2828.1,1616.6 L2846.8,1617.0 L2865.5,1619.0 L2884.2,1618.1 L2903.0,1619.3 L2921.7,1620.9 L2940.4,1622.3 L2959.1,1622.5 L2977.9,1622.2 L2996.6,1624.3 L3015.3,1622.2 L3034.0,1621.4 L3052.8,1621.7 L3071.5,1622.5 L3090.2,1621.8 L3108.9,1622.5 L3127.7,1625.0 L3146.4,1627.5 L3165.1,1627.5 L3183.8,1628.5 L3202.6,1630.3 L3221.3,1633.1 L3240.0,1634.9" stroke="rgba(128,128,128,0.3)" stroke-width="4.17"/>
<path d="M450.0,1551.8 L468.7,1552.1 L487.4,1552.0 L506.2,1550.6 L524.9,1550.2 L543.6,1551.0 L562.3,1550.6 L581.1,1551.8 L599.8,1551.4 L618.5,1551.1 L637.2,1550.9 L656.0,1551.1 L674.7,1549.7 L693.4,1550.3 L712.1,1549.5 L730.9,1551.2 L749.6,1549.0 L768.3,1550.8 L787.0,1548.9 L805.8,1550.3 L824.5,1549.4 L843.2,1549.6 L861.9,1550.6 L880.7,1548.6 L899.4,1548.7 L918.1,1550.8 L936.8,1549.8 L955.6,1548.8 L974.3,1551.0 L993.0,1550.9 L1011.7,1548.8 L1030.5,1549.6 L1049.2,1548.9 L1067.9,1549.3 L1086.6,1550.1 L1105.4,1549.0 L1124.1,1550.3 L1142.8,1548.7 L1161.5,1549.0 L1180.3,1550.6 L1199.0,1549.7 L1217.7,1549.9 L1236.4,1550.5 L1255.2,1550.4 L1273.9,1550.3 L1292.6,1549.6 L1311.3,1551.4 L1330.1,1552.2 L1348.8,1552.3 L1367.5,1551.7 L1386.2,1551.1 L1405.0,1551.3 L1423.7,1552.3 L1442.4,1552.4 L1461.1,1551.1 L1479.9,1551.6 L1498.6,1552.1 L1517.3,1552.6 L1536.0,1553.5 L1554.8,1552.9 L1573.5,1552.4 L1592.2,1555.0 L1610.9,1554.7 L1629.7,1555.6 L1648.4,1555.5 L1667.1,1556.7 L1685.8,1557.2 L1704.6,1558.8 L1723.3,1557.9 L1742.0,1559.6 L1760.7,1559.4 L1779.5,1561.3 L1798.2,1560.3 L1816.9,1561.6 L1835.6,1562.4 L1854.4,1563.8 L1873.1,1563.0 L1891.8,1564.7 L1910.5,1564.7 L1929.3,1565.6 L1948.0,1566.8 L1966.7,1568.7 L1985.4,1568.2 L2004.2,1570.1 L2022.9,1568.9 L2041.6,1571.4 L2060.3,1570.8 L2079.1,1571.1 L2097.8,1573.2 L2116.5,1574.3 L2135.2,1572.8 L2154.0,1574.1 L2172.7,1576.1 L2191.4,1575.7 L2210.1,1576.2 L2228.9,1576.3 L2247.6,1577.1 L2266.3,1579.3 L2285.0,1580.9 L2303.8,1581.6 L2322.5,1581.1 L2341.2,1580.6 L2359.9,1582.0 L2378.7,1583.8 L2397.4,1584.6 L2416.1,1584.8 L2434.8,1584.5 L2453.6,1585.9 L2472.3,1586.5 L2491.0,1587.5 L2509.7,1587.3 L2528.5,1589.7 L2547.2,1590.2 L2565.9,1589.1 L2584.6,1590.1 L2603.4,1592.1 L2622.1,1591.3 L2640.8,1593.5 L2659.5,1593.1 L2678.3,1594.2 L2697.0,1594.6 L2715.7,1593.7 L2734.4,1594.3 L2753.2,1594.6 L2771.9,1596.0 L2790.6,1596.4 L2809.3,1595.5 L2828.1,1597.7 L2846.8,1598.6 L2865.5,1600.2 L2884.2,1600.1 L2903.0,1601.0 L2921.7,1599.4 L2940.4,1599.1 L2959.1,1599.8 L2977.9,1599.9 L2996.6,1600.4 L3015.3,1600.6 L3034.0,1603.1 L3052.8,1604.9 L3071.5,1605.6 L3090.2,1607.1 L3108.9,1608.6 L3127.7,1609.5 L3146.4,1611.2 L3165.1,1610.0 L3183.8,1607.8 L3202.6,1609.0 L3221.3,1608.9 L3240.0,1611.7" stroke="rgba(128,128,128,0.3)" stroke-width="4.17"/>
<path d="M450.0,1600.2 L468.7,1601.4 L487.4,1601.5 L506.2,1602.0 L524.9,1600.5 L543.6,1600.7 L562.3,1600.6 L581.1,1600.9 L599.8,1602.3 L618.5,1600.9 L637.2,1602.5 L656.0,1602.4 L674.7,1603.2 L693.4,1604.1 L712.1,1605.7 L730.9,1605.8 L749.6,1604.9 L768.3,1606.2 L787.0,1606.5 L805.8,1608.9 L824.5,1608.9 L843.2,1609.1 L861.9,1609.4 L880.7,1609.4 L899.4,1610.1 L918.1,1609.9 L936.8,1608.8 L955.6,1610.4 L974.3,1609.8 L993.0,1610.6 L1011.7,1610.8 L1030.5,1611.1 L1049.2,1611.5 L1067.9,1612.3 L1086.6,1612.6 L1105.4,1612.7 L1124.1,1615.1 L1142.8,1615.6 L1161.5,1616.7 L1180.3,1616.6 L1199.0,1616.4 L1217.7,1617.0 L1236.4,1615.7 L1255.2,1617.1 L1273.9,1616.7 L1292.6,1616.2 L1311.3,1616.4 L1330.1,1617.3 L1348.8,1616.8 L1367.5,1617.5 L1386.2,1616.9 L1405.0,1615.5 L1423.7,1614.0 L1442.4,1613.9 L1461.1,1612.4 L1479.9,1613.8 L1498.6,1615.0 L1517.3,1616.8 L1536.0,1616.1 L1554.8,1617.5 L1573.5,1618.3 L1592.2,1616.9 L1610.9,1618.0 L1629.7,1618.9 L1648.4,1617.0 L1667.1,1617.5 L1685.8,1619.3 L1704.6,1619.6 L1723.3,1613.4 L1742.0,1610.2 L1760.7,1611.8 L1779.5,1614.0 L1798.2,1617.6 L1816.9,1620.9 L1835.6,1618.8 L1854.4,1619.7 L1873.1,1617.9 L1891.8,1618.0 L1910.5,1615.9 L1929.3,1617.3 L1948.0,1616.2 L1966.7,1616.3 L1985.4,1614.8 L2004.2,1615.6 L2022.9,1615.3 L2041.6,1615.3 L2060.3,1614.8 L2079.1,1615.7 L2097.8,1616.2 L2116.5,1617.7 L2135.2,1615.6 L2154.0,1615.2 L2172.7,1612.1 L2191.4,1613.4 L2210.1,1614.0 L2228.9,1617.0 L2247.6,1618.3 L2266.3,1620.3 L2285.0,1625.2 L2303.8,1625.7 L2322.5,1625.0 L2341.2,1623.9 L2359.9,1624.0 L2378.7,1626.8 L2397.4,1625.0 L2416.1,1625.8 L2434.8,1626.8 L2453.6,1628.6 L2472.3,1628.4 L2491.0,1630.3 L2509.7,1631.6 L2528.5,1634.4 L2547.2,1633.9 L2565.9,1636.9 L2584.6,1639.6 L2603.4,1641.2 L2622.1,1640.4 L2640.8,1640.8 L2659.5,1641.6 L2678.3,1641.1 L2697.0,1640.6 L2715.7,1641.8 L2734.4,1642.9 L2753.2,1642.5 L2771.9,1641.4 L2790.6,1642.9 L2809.3,1643.7 L2828.1,1642.7 L2846.8,1643.9 L2865.5,1643.7 L2884.2,1643.5 L2903.0,1643.7 L2921.7,1643.6 L2940.4,1644.0 L2959.1,1643.4 L2977.9,1645.1 L2996.6,1645.1 L3015.3,1647.6 L3034.0,1648.0 L3052.8,1647.4 L3071.5,1648.8 L3090.2,1646.8 L3108.9,1647.1 L3127.7,1646.7 L3146.4,1645.7 L3165.1,1645.0 L3183.8,1644.7 L3202.6,1643.4 L3221.3,1644.6 L3240.0,1642.1" stroke="rgba(128,128,128,0.3)" stroke-width="4.17"/>
<path d="M450.0,1642.7 L468.7,1644.3 L487.4,1644.3 L506.2,1645.1 L524.9,1643.6 L543.6,1643.6 L562.3,1644.9 L581.1,1644.9 L599.8,1644.1 L618.5,1645.1 L637.2,1644.3 L656.0,1645.2 L674.7,1643.5 L693.4,1643.6 L712.1,1645.2 L730.9,1643.7 L749.6,1643.4 L768.3,1644.6 L787.0,1644.1 L805.8,1642.8 L824.5,1643.9 L843.2,1644.3 L861.9,1643.2 L880.7,1644.5 L899.4,1643.3 L918.1,1643.9 L936.8,1643.4 L955.6,1643.8 L974.3,1645.8 L993.0,1644.5 L1011.7,1646.2 L1030.5,1645.2 L1049.2,1645.9 L1067.9,1646.8 L1086.6,1646.7 L1105.4,1645.6 L1124.1,1647.1 L1142.8,1647.5 L1161.5,1646.7 L1180.3,1646.8 L1199.0,1648.9 L1217.7,1648.2 L1236.4,1647.6 L1255.2,1648.5 L1273.9,1648.1 L1292.6,1649.7 L1311.3,1649.2 L1330.1,1648.4 L1348.8,1650.4 L1367.5,1648.8 L1386.2,1649.4 L1405.0,1648.8 L1423.7,1650.7 L1442.4,1649.3 L1461.1,1650.4 L1479.9,1649.4 L1498.6,1650.5 L1517.3,1651.1 L1536.0,1650.8 L1554.8,1650.7 L1573.5,1651.1 L1592.2,1651.3 L1610.9,1652.0 L1629.7,1651.0 L1648.4,1652.3 L1667.1,1652.0 L1685.8,1653.9 L1704.6,1654.3 L1723.3,1652.5 L1742.0,1653.0 L1760.7,1654.9 L1779.5,1655.1 L1798.2,1654.2 L1816.9,1656.4 L1835.6,1657.5 L1854.4,1656.8 L1873.1,1657.1 L1891.8,1658.1 L1910.5,1659.5 L1929.3,1658.4 L1948.0,1658.8 L1966.7,1658.8 L1985.4,1660.2 L2004.2,1660.1 L2022.9,1659.9 L2041.6,1660.5 L2060.3,1660.0 L2079.1,1661.0 L2097.8,1662.9 L2116.5,1662.3 L2135.2,1661.7 L2154.0,1663.5 L2172.7,1662.3 L2191.4,1662.2 L2210.1,1661.9 L2228.9,1662.4 L2247.6,1662.7 L2266.3,1663.0 L2285.0,1664.8 L2303.8,1663.5 L2322.5,1663.5 L2341.2,1664.3 L2359.9,1665.1 L2378.7,1663.6 L2397.4,1664.7 L2416.1,1663.8 L2434.8,1664.2 L2453.6,1664.3 L2472.3,1665.2 L2491.0,1664.7 L2509.7,1664.4 L2528.5,1665.6 L2547.2,1664.8 L2565.9,1665.2 L2584.6,1666.9 L2603.4,1666.2 L2622.1,1668.4 L2640.8,1668.9 L2659.5,1672.0 L2678.3,1672.9 L2697.0,1673.7 L2715.7,1674.8 L2734.4,1673.2 L2753.2,1674.6 L2771.9,1676.1 L2790.6,1677.4 L2809.3,1680.2 L2828.1,1683.9 L2846.8,1683.1 L2865.5,1683.9 L2884.2,1684.6 L2903.0,1685.0 L2921.7,1684.8 L2940.4,1686.0 L2959.1,1684.9 L2977.9,1685.4 L2996.6,1685.7 L3015.3,1685.2 L3034.0,1685.6 L3052.8,1685.7 L3071.5,1688.1 L3090.2,1687.7 L3108.9,1690.0 L3127.7,1689.9 L3146.4,1691.0 L3165.1,1691.0 L3183.8,1690.3 L3202.6,1692.0 L3221.3,1691.7 L3240.0,1691.8" stroke="rgba(128,128,128,0.3)" stroke-width="4.17"/>
<path d="M450.0,1617.9 L468.7,1615.7 L487.4,1617.6 L506.2,1616.4 L524.9,1618.6 L543.6,1616.3 L562.3,1618.6 L581.1,1618.3 L599.8,1618.9 L618.5,1619.4 L637.2,1617.8 L656.0,1618.4 L674.7,1619.6 L693.4,1618.9 L712.1,1619.1 L730.9,1619.3 L749.6,1621.2 L768.3,1621.5 L787.0,1621.6 L805.8,1620.5 L824.5,1622.5 L843.2,1621.7 L861.9,1621.2 L880.7,1621.9 L899.4,1622.0 L918.1,1621.4 L936.8,1622.8 L955.6,1622.5 L974.3,1623.2 L993.0,1624.3 L1011.7,1624.2 L1030.5,1624.3 L1049.2,1626.0 L1067.9,1626.9 L1086.6,1626.3 L1105.4,1628.0 L1124.1,1626.4 L1142.8,1627.3 L1161.5,1628.0 L1180.3,1630.5 L1199.0,1630.1 L1217.7,1630.3 L1236.4,1629.5 L1255.2,1630.2 L1273.9,1631.4 L1292.6,1629.6 L1311.3,1629.9 L1330.1,1629.9 L1348.8,1631.1 L1367.5,1632.3 L1386.2,1631.8 L1405.0,1631.6 L1423.7,1632.0 L1442.4,1631.5 L1461.1,1633.5 L1479.9,1632.3 L1498.6,1632.2 L1517.3,1632.6 L1536.0,1634.1 L1554.8,1633.0 L1573.5,1634.7 L1592.2,1633.5 L1610.9,1633.9 L1629.7,1633.2 L1648.4,1635.5 L1667.1,1635.4 L1685.8,1634.8 L1704.6,1634.2 L1723.3,1635.3 L1742.0,1635.2 L1760.7,1636.5 L1779.5,1637.0 L1798.2,1636.7 L1816.9,1635.8 L1835.6,1635.4 L1854.4,1637.7 L1873.1,1638.0 L1891.8,1636.3 L1910.5,1637.3 L1929.3,1637.5 L1948.0,1638.9 L1966.7,1636.8 L1985.4,1637.1 L2004.2,1639.2 L2022.9,1638.7 L2041.6,1638.7 L2060.3,1639.7 L2079.1,1639.4 L2097.8,1639.9 L2116.5,1639.0 L2135.2,1639.0 L2154.0,1639.2 L2172.7,1640.4 L2191.4,1641.6 L2210.1,1641.3 L2228.9,1641.7 L2247.6,1642.7 L2266.3,1643.4 L2285.0,1643.5 L2303.8,1643.2 L2322.5,1644.7 L2341.2,1644.8 L2359.9,1645.2 L2378.7,1645.5 L2397.4,1643.5 L2416.1,1645.3 L2434.8,1644.7 L2453.6,1645.0 L2472.3,1645.6 L2491.0,1644.8 L2509.7,1645.9 L2528.5,1648.5 L2547.2,1647.7 L2565.9,1650.0 L2584.6,1650.2 L2603.4,1650.2 L2622.1,1651.0 L2640.8,1652.5 L2659.5,1653.6 L2678.3,1653.5 L2697.0,1653.0 L2715.7,1653.5 L2734.4,1655.4 L2753.2,1655.3 L2771.9,1653.9 L2790.6,1655.9 L2809.3,1655.5 L2828.1,1655.1 L2846.8,1656.7 L2865.5,1655.0 L2884.2,1655.0 L2903.0,1655.7 L2921.7,1656.8 L2940.4,1656.4 L2959.1,1656.4 L2977.9,1657.5 L2996.6,1656.4 L3015.3,1657.4 L3034.0,1655.6 L3052.8,1657.6 L3071.5,1656.2 L3090.2,1657.5 L3108.9,1658.1 L3127.7,1657.7 L3146.4,1657.6 L3165.1,1657.7 L3183.8,1658.3 L3202.6,1657.4 L3221.3,1657.2 L3240.0,1658.1" stroke="rgba(128,128,128,0.3)" stroke-width="4.17"/>
<path d="M450.0,1629.0 L468.7,1629.3 L487.4,1629.1 L506.2,1629.1 L524.9,1629.0 L543.6,1629.5 L562.3,1628.5 L581.1,1629.4 L599.8,1627.8 L618.5,1628.5 L637.2,1628.7 L656.0,1628.4 L674.7,1630.0 L693.4,1629.1 L712.1,1630.4 L730.9,1631.0 L749.6,1629.4 L768.3,1631.1 L787.0,1631.0 L805.8,1630.8 L824.5,1629.5 L843.2,1630.7 L861.9,1631.3 L880.7,1630.7 L899.4,1630.8 L918.1,1631.2 L936.8,1631.2 L955.6,1632.7 L974.3,1631.9 L993.0,1632.3 L1011.7,1633.1 L1030.5,1634.2 L1049.2,1632.9 L1067.9,1632.6 L1086.6,1635.1 L1105.4,1635.1 L1124.1,1635.3 L1142.8,1635.0 L1161.5,1634.6 L1180.3,1634.7 L1199.0,1635.2 L1217.7,1635.8 L1236.4,1635.1 L1255.2,1636.8 L1273.9,1637.1 L1292.6,1635.5 L1311.3,1637.8 L1330.1,1637.1 L1348.8,1638.4 L1367.5,1637.5 L1386.2,1638.5 L1405.0,1637.8 L1423.7,1638.4 L1442.4,1638.4 L1461.1,1637.4 L1479.9,1637.9 L1498.6,1638.3 L1517.3,1639.0 L1536.0,1639.1 L1554.8,1639.7 L1573.5,1640.2 L1592.2,1639.8 L1610.9,1639.8 L1629.7,1640.4 L1648.4,1641.7 L1667.1,1641.5 L1685.8,1641.4 L1704.6,1642.0 L1723.3,1640.8 L1742.0,1640.7 L1760.7,1640.8 L1779.5,1641.1 L1798.2,1641.0 L1816.9,1642.8 L1835.6,1643.7 L1854.4,1641.9 L1873.1,1643.5 L1891.8,1644.3 L1910.5,1644.1 L1929.3,1642.8 L1948.0,1644.4 L1966.7,1643.9 L1985.4,1644.1 L2004.2,1644.1 L2022.9,1645.8 L2041.6,1647.1 L2060.3,1645.6 L2079.1,1646.1 L2097.8,1647.1 L2116.5,1646.6 L2135.2,1648.1 L2154.0,1649.1 L2172.7,1648.9 L2191.4,1648.3 L2210.1,1648.6 L2228.9,1649.5 L2247.6,1651.0 L2266.3,1652.1 L2285.0,1651.4 L2303.8,1650.9 L2322.5,1651.5 L2341.2,1652.4 L2359.9,1652.1 L2378.7,1652.5 L2397.4,1653.7 L2416.1,1655.1 L2434.8,1654.1 L2453.6,1656.0 L2472.3,1656.4 L2491.0,1655.8 L2509.7,1655.6 L2528.5,1655.8 L2547.2,1657.2 L2565.9,1657.9 L2584.6,1658.3 L2603.4,1657.0 L2622.1,1657.9 L2640.8,1657.2 L2659.5,1658.2 L2678.3,1658.5 L2697.0,1658.3 L2715.7,1658.3 L2734.4,1660.8 L2753.2,1659.3 L2771.9,1660.0 L2790.6,1660.3 L2809.3,1660.3 L2828.1,1660.8 L2846.8,1660.8 L2865.5,1661.0 L2884.2,1659.9 L2903.0,1661.1 L2921.7,1661.1 L2940.4,1661.1 L2959.1,1659.9 L2977.9,1660.2 L2996.6,1660.9 L3015.3,1660.6 L3034.0,1660.8 L3052.8,1663.4 L3071.5,1664.9 L3090.2,1668.1 L3108.9,1669.2 L3127.7,1671.1 L3146.4,1672.6 L3165.1,1673.8 L3183.8,1675.0 L3202.6,1675.4 L3221.3,1675.0 L3240.0,1676.1" stroke="rgba(128,128,128,0.3)" stroke-width="4.17"/>
<path d="M450.0,1639.6 L468.7,1639.6 L487.4,1639.2 L506.2,1636.8 L524.9,1637.2 L543.6,1637.4 L562.3,1637.7 L581.1,1636.8 L599.8,1637.0 L618.5,1638.3 L637.2,1639.1 L656.0,1637.8 L674.7,1638.3 L693.4,1637.7 L712.1,1638.9 L730.9,1639.0 L749.6,1637.6 L768.3,1639.0 L787.0,1636.6 L805.8,1638.3 L824.5,1638.7 L843.2,1637.1 L861.9,1638.7 L880.7,1638.5 L899.4,1639.7 L918.1,1638.1 L936.8,1639.1 L955.6,1640.1 L974.3,1639.7 L993.0,1639.1 L1011.7,1639.0 L1030.5,1641.5 L1049.2,1640.8 L1067.9,1642.4 L1086.6,1640.8 L1105.4,1642.8 L1124.1,1643.2 L1142.8,1643.9 L1161.5,1642.1 L1180.3,1643.4 L1199.0,1642.7 L1217.7,1644.5 L1236.4,1643.6 L1255.2,1645.2 L1273.9,1643.9 L1292.6,1645.0 L1311.3,1645.3 L1330.1,1643.9 L1348.8,1644.7 L1367.5,1645.8 L1386.2,1645.0 L1405.0,1644.8 L1423.7,1644.7 L1442.4,1646.2 L1461.1,1645.0 L1479.9,1646.2 L1498.6,1646.3 L1517.3,1646.5 L1536.0,1645.6 L1554.8,1647.1 L1573.5,1648.0 L1592.2,1646.7 L1610.9,1646.9 L1629.7,1648.6 L1648.4,1647.9 L1667.1,1647.4 L1685.8,1647.0 L1704.6,1649.0 L1723.3,1648.2 L1742.0,1648.7 L1760.7,1648.5 L1779.5,1649.7 L1798.2,1650.3 L1816.9,1649.5 L1835.6,1649.3 L1854.4,1651.8 L1873.1,1651.9 L1891.8,1650.1 L1910.5,1651.7 L1929.3,1652.3 L1948.0,1651.9 L1966.7,1653.0 L1985.4,1653.9 L2004.2,1653.3 L2022.9,1653.1 L2041.6,1652.9 L2060.3,1653.4 L2079.1,1653.4 L2097.8,1653.6 L2116.5,1654.2 L2135.2,1655.9 L2154.0,1655.4 L2172.7,1656.3 L2191.4,1656.7 L2210.1,1656.7 L2228.9,1655.0 L2247.6,1657.4 L2266.3,1655.5 L2285.0,1657.4 L2303.8,1657.8 L2322.5,1657.5 L2341.2,1657.1 L2359.9,1656.5 L2378.7,1656.7 L2397.4,1658.3 L2416.1,1657.5 L2434.8,1658.4 L2453.6,1658.0 L2472.3,1658.0 L2491.0,1658.5 L2509.7,1659.7 L2528.5,1659.4 L2547.2,1659.3 L2565.9,1659.8 L2584.6,1660.1 L2603.4,1660.2 L2622.1,1660.3 L2640.8,1661.8 L2659.5,1661.4 L2678.3,1660.4 L2697.0,1660.8 L2715.7,1660.7 L2734.4,1661.3 L2753.2,1660.7 L2771.9,1662.6 L2790.6,1662.4 L2809.3,1662.3 L2828.1,1663.6 L2846.8,1662.4 L2865.5,1663.3 L2884.2,1664.2 L2903.0,1663.4 L2921.7,1663.6 L2940.4,1663.1 L2959.1,1664.8 L2977.9,1664.3 L2996.6,1663.3 L3015.3,1663.5 L3034.0,1664.2 L3052.8,1664.1 L3071.5,1664.1 L3090.2,1663.3 L3108.9,1664.3 L3127.7,1664.6 L3146.4,1664.7 L3165.1,1664.0 L3183.8,1663.9 L3202.6,1664.1 L3221.3,1664.2 L3240.0,1664.0" stroke="rgba(128,128,128,0.3)" stroke-width="4.17"/>
<path d="M450.0,1636.8 L468.7,1638.3 L487.4,1637.8 L506.2,1637.8 L524.9,1638.9 L543.6,1639.2 L562.3,1639.5 L581.1,1639.8 L599.8,1639.7 L618.5,1640.0 L637.2,1641.1 L656.0,1640.2 L674.7,1641.0 L693.4,1641.3 L712.1,1641.5 L730.9,1641.7 L749.6,1640.0 L768.3,1640.0 L787.0,1641.2 L805.8,1640.8 L824.5,1640.0 L843.2,1641.3 L861.9,1641.8 L880.7,1641.8 L899.4,1640.4 L918.1,1640.7 L936.8,1640.1 L955.6,1642.6 L974.3,1640.8 L993.0,1642.2 L1011.7,1642.1 L1030.5,1642.7 L1049.2,1642.9 L1067.9,1644.1 L1086.6,1643.9 L1105.4,1643.6 L1124.1,1643.5 L1142.8,1644.8 L1161.5,1646.3 L1180.3,1644.8 L1199.0,1646.4 L1217.7,1646.4 L1236.4,1645.5 L1255.2,1645.8 L1273.9,1647.2 L1292.6,1646.8 L1311.3,1646.9 L1330.1,1647.3 L1348.8,1646.6 L1367.5,1648.3 L1386.2,1648.1 L1405.0,1648.0 L1423.7,1647.7 L1442.4,1648.9 L1461.1,1649.1 L1479.9,1648.5 L1498.6,1647.5 L1517.3,1647.7 L1536.0,1647.8 L1554.8,1647.7 L1573.5,1649.3 L1592.2,1649.3 L1610.9,1648.7 L1629.7,1650.6 L1648.4,1650.1 L1667.1,1650.7 L1685.8,1651.0 L1704.6,1650.9 L1723.3,1650.7 L1742.0,1652.0 L1760.7,1650.2 L1779.5,1651.9 L1798.2,1652.7 L1816.9,1652.0 L1835.6,1653.1 L1854.4,1651.9 L1873.1,1652.8 L1891.8,1652.7 L1910.5,1653.3 L1929.3,1654.4 L1948.0,1653.3 L1966.7,1654.1 L1985.4,1655.6 L2004.2,1654.6 L2022.9,1654.5 L2041.6,1656.9 L2060.3,1656.1 L2079.1,1655.1 L2097.8,1656.8 L2116.5,1656.1 L2135.2,1656.3 L2154.0,1657.9 L2172.7,1657.9 L2191.4,1657.6 L2210.1,1658.0 L2228.9,1658.3 L2247.6,1658.3 L2266.3,1657.6 L2285.0,1659.4 L2303.8,1659.6 L2322.5,1659.1 L2341.2,1659.4 L2359.9,1660.2 L2378.7,1660.1 L2397.4,1660.3 L2416.1,1661.7 L2434.8,1662.1 L2453.6,1660.6 L2472.3,1660.9 L2491.0,1662.7 L2509.7,1663.3 L2528.5,1662.8 L2547.2,1661.8 L2565.9,1661.4 L2584.6,1663.4 L2603.4,1663.7 L2622.1,1663.4 L2640.8,1663.4 L2659.5,1664.1 L2678.3,1663.1 L2697.0,1664.0 L2715.7,1662.3 L2734.4,1661.7 L2753.2,1663.5 L2771.9,1663.0 L2790.6,1663.2 L2809.3,1661.4 L2828.1,1661.8 L2846.8,1662.4 L2865.5,1661.0 L2884.2,1661.6 L2903.0,1662.3 L2921.7,1663.1 L2940.4,1662.6 L2959.1,1661.8 L2977.9,1661.8 L2996.6,1662.1 L3015.3,1662.6 L3034.0,1663.3 L3052.8,1660.8 L3071.5,1663.2 L3090.2,1663.0 L3108.9,1661.2 L3127.7,1661.9 L3146.4,1662.0 L3165.1,1662.0 L3183.8,1661.9 L3202.6,1662.0 L3221.3,1663.4 L3240.0,1662.9" stroke="rgba(128,128,128,0.3)" stroke-width="4.17"/>
<path d="M450.0,1647.0 L468.7,1648.3 L487.4,1647.3 L506.2,1646.7 L524.9,1646.8 L543.6,1641.4 L562.3,1641.3 L581.1,1644.6 L599.8,1647.3 L618.5,1648.0 L637.2,1648.6 L656.0,1646.1 L674.7,1646.2 L693.4,1645.5 L712.1,1644.8 L730.9,1644.2 L749.6,1645.8 L768.3,1646.9 L787.0,1646.6 L805.8,1647.0 L824.5,1646.5 L843.2,1644.0 L861.9,1646.6 L880.7,1647.7 L899.4,1648.2 L918.1,1648.0 L936.8,1650.3 L955.6,1650.1 L974.3,1653.1 L993.0,1654.4 L1011.7,1653.5 L1030.5,1653.5 L1049.2,1654.9 L1067.9,1656.3 L1086.6,1656.2 L1105.4,1657.0 L1124.1,1655.9 L1142.8,1653.3 L1161.5,1652.7 L1180.3,1652.9 L1199.0,1655.6 L1217.7,1655.2 L1236.4,1656.6 L1255.2,1657.3 L1273.9,1658.8 L1292.6,1658.5 L1311.3,1657.5 L1330.1,1656.3 L1348.8,1653.6 L1367.5,1653.5 L1386.2,1655.5 L1405.0,1656.6 L1423.7,1655.6 L1442.4,1657.3 L1461.1,1655.5 L1479.9,1653.2 L1498.6,1657.1 L1517.3,1657.9 L1536.0,1654.5 L1554.8,1655.9 L1573.5,1656.2 L1592.2,1657.2 L1610.9,1658.0 L1629.7,1657.5 L1648.4,1655.9 L1667.1,1657.9 L1685.8,1660.5 L1704.6,1661.8 L1723.3,1660.0 L1742.0,1661.0 L1760.7,1658.6 L1779.5,1659.1 L1798.2,1660.4 L1816.9,1662.4 L1835.6,1661.6 L1854.4,1660.9 L1873.1,1663.1 L1891.8,1662.9 L1910.5,1667.4 L1929.3,1669.0 L1948.0,1670.8 L1966.7,1671.6 L1985.4,1673.1 L2004.2,1675.7 L2022.9,1673.7 L2041.6,1675.3 L2060.3,1674.3 L2079.1,1673.1 L2097.8,1672.9 L2116.5,1674.5 L2135.2,1677.0 L2154.0,1675.4 L2172.7,1674.6 L2191.4,1674.2 L2210.1,1671.7 L2228.9,1675.0 L2247.6,1678.0 L2266.3,1675.3 L2285.0,1679.1 L2303.8,1680.2 L2322.5,1681.5 L2341.2,1681.8 L2359.9,1678.3 L2378.7,1677.8 L2397.4,1680.1 L2416.1,1678.2 L2434.8,1677.0 L2453.6,1677.2 L2472.3,1676.2 L2491.0,1676.3 L2509.7,1677.1 L2528.5,1676.4 L2547.2,1676.8 L2565.9,1676.1 L2584.6,1680.0 L2603.4,1678.3 L2622.1,1676.2 L2640.8,1681.5 L2659.5,1681.5 L2678.3,1680.3 L2697.0,1681.5 L2715.7,1683.6 L2734.4,1683.2 L2753.2,1687.0 L2771.9,1688.2 L2790.6,1685.8 L2809.3,1684.3 L2828.1,1688.1 L2846.8,1685.7 L2865.5,1687.3 L2884.2,1685.2 L2903.0,1684.8 L2921.7,1686.5 L2940.4,1686.6 L2959.1,1688.1 L2977.9,1689.0 L2996.6,1689.5 L3015.3,1690.0 L3034.0,1690.0 L3052.8,1690.2 L3071.5,1691.6 L3090.2,1690.1 L3108.9,1691.6 L3127.7,1690.3 L3146.4,1692.1 L3165.1,1691.3 L3183.8,1693.1 L3202.6,1693.3 L3221.3,1695.3 L3240.0,1693.3" stroke="rgba(128,128,128,0.3)" stroke-width="4.17"/>
<path d="M450.0,1650.8 L468.7,1651.4 L487.4,1650.8 L506.2,1649.8 L524.9,1649.8 L543.6,1645.5 L562.3,1645.5 L581.1,1647.1 L599.8,1651.0 L618.5,1651.8 L637.2,1650.8 L656.0,1649.4 L674.7,1648.8 L693.4,1648.8 L712.1,1647.8 L730.9,1648.2 L749.6,1648.8 L768.3,1649.4 L787.0,1649.8 L805.8,1649.8 L824.5,1649.4 L843.2,1648.2 L861.9,1649.4 L880.7,1650.8 L899.4,1651.8 L918.1,1652.2 L936.8,1652.9 L955.6,1653.5 L974.3,1655.9 L993.0,1656.9 L1011.7,1656.3 L1030.5,1655.9 L1049.2,1658.4 L1067.9,1659.0 L1086.6,1659.6 L1105.4,1659.4 L1124.1,1658.4 L1142.8,1657.3 L1161.5,1656.7 L1180.3,1656.7 L1199.0,1658.0 L1217.7,1658.6 L1236.4,1659.6 L1255.2,1661.0 L1273.9,1662.0 L1292.6,1662.0 L1311.3,1661.0 L1330.1,1659.4 L1348.8,1656.7 L1367.5,1655.9 L1386.2,1658.4 L1405.0,1659.0 L1423.7,1658.2 L1442.4,1659.6 L1461.1,1658.4 L1479.9,1657.1 L1498.6,1659.6 L1517.3,1660.2 L1536.0,1656.9 L1554.8,1659.0 L1573.5,1659.0 L1592.2,1661.0 L1610.9,1660.6 L1629.7,1660.6 L1648.4,1659.6 L1667.1,1662.0 L1685.8,1663.1 L1704.6,1664.1 L1723.3,1664.1 L1742.0,1663.7 L1760.7,1662.0 L1779.5,1663.1 L1798.2,1664.1 L1816.9,1665.1 L1835.6,1664.1 L1854.4,1665.1 L1873.1,1666.1 L1891.8,1667.1 L1910.5,1670.2 L1929.3,1672.7 L1948.0,1673.3 L1966.7,1673.9 L1985.4,1676.3 L2004.2,1678.0 L2022.9,1677.3 L2041.6,1679.4 L2060.3,1677.3 L2079.1,1677.3 L2097.8,1676.7 L2116.5,1678.0 L2135.2,1680.0 L2154.0,1679.4 L2172.7,1678.8 L2191.4,1676.7 L2210.1,1675.3 L2228.9,1677.3 L2247.6,1680.4 L2266.3,1678.8 L2285.0,1682.4 L2303.8,1683.5 L2322.5,1684.5 L2341.2,1684.9 L2359.9,1681.4 L2378.7,1680.8 L2397.4,1682.4 L2416.1,1681.4 L2434.8,1680.4 L2453.6,1680.0 L2472.3,1680.0 L2491.0,1680.0 L2509.7,1679.4 L2528.5,1679.6 L2547.2,1680.0 L2565.9,1680.4 L2584.6,1683.5 L2603.4,1681.4 L2622.1,1680.4 L2640.8,1684.5 L2659.5,1684.5 L2678.3,1684.5 L2697.0,1684.5 L2715.7,1686.9 L2734.4,1686.1 L2753.2,1690.6 L2771.9,1691.0 L2790.6,1688.6 L2809.3,1688.6 L2828.1,1692.2 L2846.8,1688.6 L2865.5,1689.6 L2884.2,1689.0 L2903.0,1688.2 L2921.7,1689.6 L2940.4,1690.2 L2959.1,1691.6 L2977.9,1692.7 L2996.6,1693.1 L3015.3,1693.1 L3034.0,1693.7 L3052.8,1693.7 L3071.5,1694.3 L3090.2,1694.3 L3108.9,1694.7 L3127.7,1693.1 L3146.4,1695.7 L3165.1,1695.1 L3183.8,1695.7 L3202.6,1697.1 L3221.3,1699.2 L3240.0,1696.7" stroke="#808080" stroke-width="4.17"/>
<path d="M450.0,1543.3 L468.7,1542.7 L487.4,1540.2 L506.2,1542.0 L524.9,1541.0 L543.6,1539.6 L562.3,1538.2 L581.1,1540.2 L599.8,1542.2 L618.5,1544.7 L637.2,1543.7 L656.0,1543.1 L674.7,1542.7 L693.4,1541.6 L712.1,1540.2 L730.9,1539.6 L749.6,1539.6 L768.3,1540.6 L787.0,1541.6 L805.8,1542.7 L824.5,1544.3 L843.2,1540.6 L861.9,1539.6 L880.7,1537.6 L899.4,1536.5 L918.1,1535.9 L936.8,1534.5 L955.6,1535.5 L974.3,1538.6 L993.0,1537.1 L1011.7,1537.6 L1030.5,1538.6 L1049.2,1541.6 L1067.9,1540.6 L1086.6,1541.6 L1105.4,1542.7 L1124.1,1541.6 L1142.8,1541.2 L1161.5,1542.7 L1180.3,1543.7 L1199.0,1544.1 L1217.7,1543.3 L1236.4,1542.7 L1255.2,1542.7 L1273.9,1543.7 L1292.6,1544.1 L1311.3,1544.7 L1330.1,1544.7 L1348.8,1545.3 L1367.5,1543.3 L1386.2,1542.7 L1405.0,1543.7 L1423.7,1544.7 L1442.4,1546.7 L1461.1,1546.7 L1479.9,1546.3 L1498.6,1545.7 L1517.3,1545.3 L1536.0,1544.7 L1554.8,1544.3 L1573.5,1543.7 L1592.2,1543.7 L1610.9,1545.7 L1629.7,1547.3 L1648.4,1549.8 L1667.1,1550.4 L1685.8,1550.8 L1704.6,1551.2 L1723.3,1551.4 L1742.0,1551.8 L1760.7,1551.8 L1779.5,1552.9 L1798.2,1553.5 L1816.9,1554.3 L1835.6,1556.3 L1854.4,1557.6 L1873.1,1556.9 L1891.8,1555.9 L1910.5,1559.0 L1929.3,1559.6 L1948.0,1557.6 L1966.7,1555.5 L1985.4,1560.0 L2004.2,1560.0 L2022.9,1559.6 L2041.6,1559.6 L2060.3,1561.0 L2079.1,1564.1 L2097.8,1566.1 L2116.5,1565.7 L2135.2,1566.1 L2154.0,1566.1 L2172.7,1566.5 L2191.4,1569.2 L2210.1,1565.1 L2228.9,1566.5 L2247.6,1567.8 L2266.3,1568.2 L2285.0,1565.1 L2303.8,1564.5 L2322.5,1564.5 L2341.2,1564.5 L2359.9,1566.1 L2378.7,1570.2 L2397.4,1570.2 L2416.1,1570.6 L2434.8,1571.8 L2453.6,1570.2 L2472.3,1571.2 L2491.0,1573.9 L2509.7,1574.3 L2528.5,1575.3 L2547.2,1577.3 L2565.9,1576.7 L2584.6,1578.0 L2603.4,1580.4 L2622.1,1580.8 L2640.8,1582.0 L2659.5,1581.4 L2678.3,1584.1 L2697.0,1583.5 L2715.7,1582.4 L2734.4,1582.9 L2753.2,1582.0 L2771.9,1585.5 L2790.6,1586.1 L2809.3,1586.1 L2828.1,1585.5 L2846.8,1584.9 L2865.5,1584.5 L2884.2,1582.4 L2903.0,1582.0 L2921.7,1582.9 L2940.4,1582.0 L2959.1,1583.1 L2977.9,1581.4 L2996.6,1580.8 L3015.3,1580.8 L3034.0,1580.0 L3052.8,1577.3 L3071.5,1576.3 L3090.2,1575.3 L3108.9,1574.9 L3127.7,1575.3 L3146.4,1580.8 L3165.1,1578.8 L3183.8,1580.4 L3202.6,1582.4 L3221.3,1584.5 L3240.0,1584.1" stroke="#808080" stroke-width="4.17"/>
<path d="M450.0,1608.0 L468.7,1608.6 L487.4,1609.0 L506.2,1607.3 L524.9,1606.5 L543.6,1608.0 L562.3,1610.0 L581.1,1610.6 L599.8,1611.0 L618.5,1606.9 L637.2,1606.5 L656.0,1606.5 L674.7,1606.9 L693.4,1607.3 L712.1,1607.3 L730.9,1605.9 L749.6,1610.0 L768.3,1610.6 L787.0,1611.0 L805.8,1612.0 L824.5,1615.1 L843.2,1616.1 L861.9,1616.7 L880.7,1617.1 L899.4,1616.1 L918.1,1614.1 L936.8,1613.1 L955.6,1615.5 L974.3,1614.7 L993.0,1614.1 L1011.7,1614.1 L1030.5,1616.7 L1049.2,1616.7 L1067.9,1617.1 L1086.6,1618.8 L1105.4,1617.1 L1124.1,1616.1 L1142.8,1615.1 L1161.5,1616.1 L1180.3,1620.2 L1199.0,1623.3 L1217.7,1624.3 L1236.4,1623.3 L1255.2,1622.7 L1273.9,1623.3 L1292.6,1624.9 L1311.3,1624.9 L1330.1,1623.9 L1348.8,1622.9 L1367.5,1621.2 L1386.2,1621.2 L1405.0,1620.2 L1423.7,1618.8 L1442.4,1619.6 L1461.1,1622.2 L1479.9,1623.3 L1498.6,1624.9 L1517.3,1624.9 L1536.0,1624.3 L1554.8,1624.3 L1573.5,1623.9 L1592.2,1623.3 L1610.9,1626.3 L1629.7,1627.8 L1648.4,1628.4 L1667.1,1628.4 L1685.8,1628.4 L1704.6,1628.4 L1723.3,1626.1 L1742.0,1624.1 L1760.7,1625.5 L1779.5,1627.8 L1798.2,1629.8 L1816.9,1631.0 L1835.6,1629.0 L1854.4,1628.4 L1873.1,1630.4 L1891.8,1629.4 L1910.5,1629.0 L1929.3,1628.4 L1948.0,1627.3 L1966.7,1628.4 L1985.4,1630.4 L2004.2,1630.4 L2022.9,1629.4 L2041.6,1628.4 L2060.3,1628.4 L2079.1,1629.4 L2097.8,1630.4 L2116.5,1632.4 L2135.2,1631.4 L2154.0,1629.4 L2172.7,1628.4 L2191.4,1629.0 L2210.1,1629.4 L2228.9,1632.4 L2247.6,1631.4 L2266.3,1632.4 L2285.0,1635.1 L2303.8,1634.5 L2322.5,1634.1 L2341.2,1633.9 L2359.9,1633.5 L2378.7,1633.1 L2397.4,1634.5 L2416.1,1636.5 L2434.8,1635.1 L2453.6,1635.5 L2472.3,1635.5 L2491.0,1636.5 L2509.7,1639.2 L2528.5,1638.0 L2547.2,1638.6 L2565.9,1639.6 L2584.6,1641.2 L2603.4,1643.3 L2622.1,1643.7 L2640.8,1642.7 L2659.5,1642.7 L2678.3,1643.3 L2697.0,1644.7 L2715.7,1646.1 L2734.4,1645.7 L2753.2,1645.3 L2771.9,1643.7 L2790.6,1642.7 L2809.3,1643.7 L2828.1,1646.7 L2846.8,1644.7 L2865.5,1645.7 L2884.2,1645.3 L2903.0,1644.7 L2921.7,1646.1 L2940.4,1646.7 L2959.1,1646.1 L2977.9,1644.7 L2996.6,1648.8 L3015.3,1649.4 L3034.0,1650.8 L3052.8,1650.2 L3071.5,1649.8 L3090.2,1649.8 L3108.9,1649.4 L3127.7,1648.2 L3146.4,1647.8 L3165.1,1647.8 L3183.8,1647.3 L3202.6,1647.3 L3221.3,1647.8 L3240.0,1644.7" stroke="#000" stroke-width="8.33"/>
<path d="M450.0,1657.3 L468.7,1659.2 L487.4,1658.0 L506.2,1658.0 L524.9,1655.9 L543.6,1657.6 L562.3,1659.2 L581.1,1659.8 L599.8,1660.0 L618.5,1658.2 L637.2,1656.1 L656.0,1656.9 L674.7,1657.6 L693.4,1656.3 L712.1,1658.2 L730.9,1657.1 L749.6,1656.5 L768.3,1655.7 L787.0,1655.5 L805.8,1655.1 L824.5,1654.7 L843.2,1653.7 L861.9,1655.1 L880.7,1655.9 L899.4,1657.6 L918.1,1658.6 L936.8,1659.6 L955.6,1660.0 L974.3,1660.8 L993.0,1662.0 L1011.7,1661.6 L1030.5,1660.8 L1049.2,1662.9 L1067.9,1664.7 L1086.6,1667.1 L1105.4,1666.9 L1124.1,1666.5 L1142.8,1666.7 L1161.5,1668.0 L1180.3,1669.2 L1199.0,1671.0 L1217.7,1669.4 L1236.4,1669.8 L1255.2,1670.8 L1273.9,1669.8 L1292.6,1669.8 L1311.3,1670.0 L1330.1,1672.7 L1348.8,1674.7 L1367.5,1676.1 L1386.2,1678.2 L1405.0,1679.4 L1423.7,1677.3 L1442.4,1677.1 L1461.1,1676.1 L1479.9,1674.1 L1498.6,1672.2" stroke="#008000" stroke-width="12.50"/>
</g>
<path d="M619.00,1837.50 L619.00,210.00 M993.00,1837.50 L993.00,210.00 M1368.00,1837.50 L1368.00,210.00 M1742.00,1837.50 L1742.00,210.00 M2117.00,1837.50 L2117.00,210.00 M2491.00,1837.50 L2491.00,210.00 M2866.00,1837.50 L2866.00,210.00 M3240.00,1837.50 L3240.00,210.00 M450.00,1838.00 L3240.00,1838.00 M450.00,1566.00 L3240.00,1566.00 M450.00,1295.00 L3240.00,1295.00 M450.00,1024.00 L3240.00,1024.00 M450.00,753.00 L3240.00,753.00 M450.00,481.00 L3240.00,481.00 M450.00,210.00 L3240.00,210.00" stroke="#000" stroke-width="2.083" stroke-dasharray="4.167 12.500" fill="none"/>
<path d="M619.00,1837.50 L619.00,1820.83 M619.00,210.00 L619.00,226.67 M993.00,1837.50 L993.00,1820.83 M993.00,210.00 L993.00,226.67 M1368.00,1837.50 L1368.00,1820.83 M1368.00,210.00 L1368.00,226.67 M1742.00,1837.50 L1742.00,1820.83 M1742.00,210.00 L1742.00,226.67 M2117.00,1837.50 L2117.00,1820.83 M2117.00,210.00 L2117.00,226.67 M2491.00,1837.50 L2491.00,1820.83 M2491.00,210.00 L2491.00,226.67 M2866.00,1837.50 L2866.00,1820.83 M2866.00,210.00 L2866.00,226.67 M3240.00,1837.50 L3240.00,1820.83 M3240.00,210.00 L3240.00,226.67 M450.00,1838.00 L466.67,1838.00 M3240.00,1838.00 L3223.33,1838.00 M450.00,1566.00 L466.67,1566.00 M3240.00,1566.00 L3223.33,1566.00 M450.00,1295.00 L466.67,1295.00 M3240.00,1295.00 L3223.33,1295.00 M450.00,1024.00 L466.67,1024.00 M3240.00,1024.00 L3223.33,1024.00 M450.00,753.00 L466.67,753.00 M3240.00,753.00 L3223.33,753.00 M450.00,481.00 L466.67,481.00 M3240.00,481.00 L3223.33,481.00 M450.00,210.00 L466.67,210.00 M3240.00,210.00 L3223.33,210.00" stroke="#000" stroke-width="2.083" fill="none"/>
<rect x="450.00" y="210.00" width="2790.00" height="1628.00" fill="none" stroke="#000" stroke-width="4.167" stroke-linejoin="miter"/>
<text x="618.52" y="1895.00" font-size="58.333" text-anchor="middle">1960</text>
<text x="993.02" y="1895.00" font-size="58.333" text-anchor="middle">1980</text>
<text x="1367.52" y="1895.00" font-size="58.333" text-anchor="middle">2000</text>
<text x="1742.01" y="1895.00" font-size="58.333" text-anchor="middle">2020</text>
<text x="2116.51" y="1895.00" font-size="58.333" text-anchor="middle">2040</text>
<text x="2491.01" y="1895.00" font-size="58.333" text-anchor="middle">2060</text>
<text x="2865.50" y="1895.00" font-size="58.333" text-anchor="middle">2080</text>
<text x="3240.00" y="1895.00" font-size="58.333" text-anchor="middle">2100</text>
<text x="433.00" y="1852.20" font-size="58.333" text-anchor="end">0</text>
<text x="433.00" y="1580.95" font-size="58.333" text-anchor="end">50</text>
<text x="433.00" y="1309.70" font-size="58.333" text-anchor="end">100</text>
<text x="433.00" y="1038.45" font-size="58.333" text-anchor="end">150</text>
<text x="433.00" y="767.20" font-size="58.333" text-anchor="end">200</text>
<text x="433.00" y="495.95" font-size="58.333" text-anchor="end">250</text>
<text x="433.00" y="224.70" font-size="58.333" text-anchor="end">300</text>
<text x="1845.00" y="190.00" font-size="70.000" text-anchor="middle">Saldus.Feb</text>
<text x="1845.00" y="1968.00" font-size="58.333" text-anchor="middle">Gads</text>
<g transform="translate(306.00,1585.70) rotate(-90)">
<text x="0" y="0" font-size="58.333">Saules radiācija uz horizontālas virsmas, </text>
</g>
<g transform="translate(306.6,624.6) rotate(-90) scale(1.135,1)"><text x="0" y="0" font-size="60.8" font-style="italic">W</text></g>
<g transform="translate(307.1,538.6) rotate(-90) scale(1.238,1)"><text x="0" y="0" font-size="59.4" font-style="italic">m</text></g>
<path transform="translate(284.0,483.2) rotate(-90)" d="M18.993994140625002 0.0H1.8764648437500002V-3.0648925781250003L5.7544921875 -6.5884765625Q9.486572265625 -9.861865234375001 11.237939453125001 -11.88427734375Q12.989306640625001 -13.906689453125 13.7503173828125 -16.05419921875Q14.511328125 -18.201708984375003 14.511328125 -20.974707031250002Q14.511328125 -23.685156250000002 13.281201171875 -25.1029296875Q12.051074218750001 -26.520703125 9.257226562500001 -26.520703125Q8.152197265625 -26.520703125 6.984619140625 -26.2183837890625Q5.8170410156250005 -25.916064453125003 4.9205078125 -25.415673828125L4.190771484375 -21.996337890625H2.814697265625V-27.375537109375003Q6.609326171875001 -28.272070312500002 9.257226562500001 -28.272070312500002Q13.844140625000001 -28.272070312500002 16.1480224609375 -26.364331054687504Q18.451904296875 -24.456591796875003 18.451904296875 -20.974707031250002Q18.451904296875 -18.63955078125 17.5449462890625 -16.5650146484375Q16.637988281250003 -14.490478515625002 14.761523437500003 -12.436791992187501Q12.885058593750001 -10.383105468750001 8.54833984375 -6.692724609375Q6.692724609375 -5.108154296875 4.607763671875 -3.21083984375H18.993994140625002Z" fill="#000"/>
<path d="M264.3,543.4 L318.7,563.1" stroke="#000" stroke-width="2.6" stroke-linecap="round" fill="none"/>
<rect x="2615.00" y="245.00" width="590.00" height="417.00" fill="#fff" stroke="#000" stroke-width="4.167" stroke-linejoin="miter"/>
<path d="M2664.00,298.00 L2762.00,298.00" stroke="#808080" stroke-width="4.167" stroke-linecap="square" fill="none"/>
<text x="2838.50" y="322.00" font-size="70.000">13%</text>
<path d="M2664.00,397.00 L2762.00,397.00" stroke="#808080" stroke-width="4.167" stroke-linecap="square" fill="none"/>
<text x="2838.50" y="421.50" font-size="70.000">87%</text>
<path d="M2664.00,496.00 L2762.00,496.00" stroke="#000" stroke-width="8.333" stroke-linecap="square" fill="none"/>
<text x="2838.50" y="520.50" font-size="70.000">Mediāna</text>
<path d="M2664.00,595.50 L2762.00,595.50" stroke="#008000" stroke-width="12.500" stroke-linecap="square" fill="none"/>
<text x="2838.50" y="620.00" font-size="70.000">Novērojumi</text>
</svg></body></html>
